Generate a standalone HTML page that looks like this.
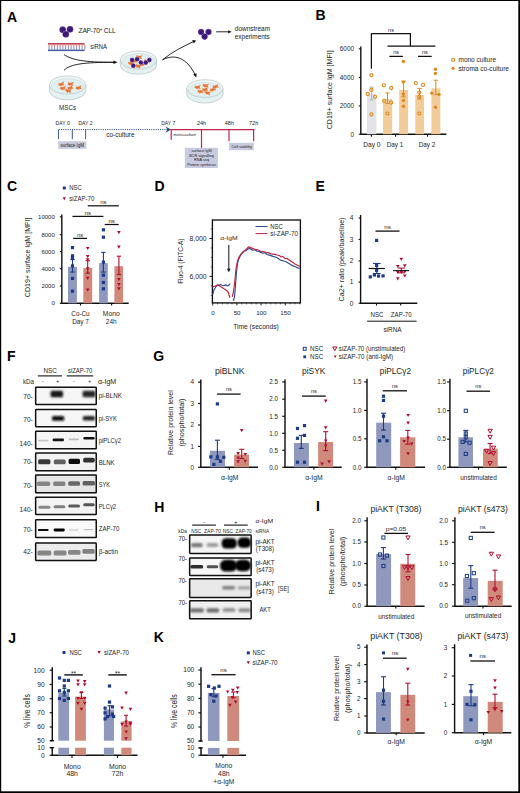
<!DOCTYPE html>
<html><head><meta charset="utf-8"><title>Figure</title><style>html,body{margin:0;padding:0;background:#fff;width:520px;height:793px;overflow:hidden}svg{display:block;font-family:"Liberation Sans",sans-serif}</style></head><body>
<svg width="520" height="793" viewBox="0 0 520 793" font-family="Liberation Sans, sans-serif" fill="#1e1e1e"><defs><filter id="b3" x="-50%" y="-100%" width="200%" height="300%"><feGaussianBlur stdDeviation="0.3"/></filter><filter id="b4" x="-50%" y="-100%" width="200%" height="300%"><feGaussianBlur stdDeviation="0.4"/></filter><filter id="b5" x="-50%" y="-100%" width="200%" height="300%"><feGaussianBlur stdDeviation="0.5"/></filter><filter id="b6" x="-50%" y="-100%" width="200%" height="300%"><feGaussianBlur stdDeviation="0.6"/></filter><filter id="b7" x="-50%" y="-100%" width="200%" height="300%"><feGaussianBlur stdDeviation="0.7"/></filter><filter id="b8" x="-50%" y="-100%" width="200%" height="300%"><feGaussianBlur stdDeviation="0.8"/></filter><filter id="b9" x="-50%" y="-100%" width="200%" height="300%"><feGaussianBlur stdDeviation="0.9"/></filter><filter id="b10" x="-50%" y="-100%" width="200%" height="300%"><feGaussianBlur stdDeviation="1.0"/></filter><filter id="b11" x="-50%" y="-100%" width="200%" height="300%"><feGaussianBlur stdDeviation="1.1"/></filter><filter id="b12" x="-50%" y="-100%" width="200%" height="300%"><feGaussianBlur stdDeviation="1.2"/></filter><filter id="b13" x="-50%" y="-100%" width="200%" height="300%"><feGaussianBlur stdDeviation="1.3"/></filter><filter id="b14" x="-50%" y="-100%" width="200%" height="300%"><feGaussianBlur stdDeviation="1.4"/></filter><filter id="b15" x="-50%" y="-100%" width="200%" height="300%"><feGaussianBlur stdDeviation="1.5"/></filter></defs>
<text x="7" y="21.9" font-size="14" font-weight="bold" fill="#000">A</text>
<circle cx="62.7" cy="29.7" r="3.35" fill="#9a78c0" stroke="none" stroke-width="1"/>
<circle cx="62.7" cy="29.7" r="3" fill="#3d1a78" stroke="none" stroke-width="1"/>
<circle cx="70" cy="29.3" r="3.35" fill="#9a78c0" stroke="none" stroke-width="1"/>
<circle cx="70" cy="29.3" r="3" fill="#3d1a78" stroke="none" stroke-width="1"/>
<circle cx="65.8" cy="34.2" r="3.35" fill="#9a78c0" stroke="none" stroke-width="1"/>
<circle cx="65.8" cy="34.2" r="3" fill="#3d1a78" stroke="none" stroke-width="1"/>
<text x="78.6" y="33.3" font-size="6.6" fill="#222" letter-spacing="-0.2">ZAP-70<tspan font-size="4.6" dy="-2.2">+</tspan><tspan dy="2.2"> CLL</tspan></text>
<rect x="48" y="43.1" width="36.6" height="1.5" fill="#c23540"/>
<rect x="48" y="49.6" width="36.6" height="1.5" fill="#4358a6"/>
<rect x="48.6" y="44.6" width="1" height="2.5" fill="#d87078"/>
<rect x="48.6" y="47.1" width="1" height="2.5" fill="#7a88c8"/>
<rect x="51.35" y="44.6" width="1" height="2.5" fill="#d87078"/>
<rect x="51.35" y="47.1" width="1" height="2.5" fill="#7a88c8"/>
<rect x="54.1" y="44.6" width="1" height="2.5" fill="#d87078"/>
<rect x="54.1" y="47.1" width="1" height="2.5" fill="#7a88c8"/>
<rect x="56.85" y="44.6" width="1" height="2.5" fill="#d87078"/>
<rect x="56.85" y="47.1" width="1" height="2.5" fill="#7a88c8"/>
<rect x="59.6" y="44.6" width="1" height="2.5" fill="#d87078"/>
<rect x="59.6" y="47.1" width="1" height="2.5" fill="#7a88c8"/>
<rect x="62.35" y="44.6" width="1" height="2.5" fill="#d87078"/>
<rect x="62.35" y="47.1" width="1" height="2.5" fill="#7a88c8"/>
<rect x="65.1" y="44.6" width="1" height="2.5" fill="#d87078"/>
<rect x="65.1" y="47.1" width="1" height="2.5" fill="#7a88c8"/>
<rect x="67.85" y="44.6" width="1" height="2.5" fill="#d87078"/>
<rect x="67.85" y="47.1" width="1" height="2.5" fill="#7a88c8"/>
<rect x="70.6" y="44.6" width="1" height="2.5" fill="#d87078"/>
<rect x="70.6" y="47.1" width="1" height="2.5" fill="#7a88c8"/>
<rect x="73.35" y="44.6" width="1" height="2.5" fill="#d87078"/>
<rect x="73.35" y="47.1" width="1" height="2.5" fill="#7a88c8"/>
<rect x="76.1" y="44.6" width="1" height="2.5" fill="#d87078"/>
<rect x="76.1" y="47.1" width="1" height="2.5" fill="#7a88c8"/>
<rect x="78.85" y="44.6" width="1" height="2.5" fill="#d87078"/>
<rect x="78.85" y="47.1" width="1" height="2.5" fill="#7a88c8"/>
<rect x="81.6" y="44.6" width="1" height="2.5" fill="#d87078"/>
<rect x="81.6" y="47.1" width="1" height="2.5" fill="#7a88c8"/>
<rect x="84.35" y="44.6" width="1" height="2.5" fill="#d87078"/>
<rect x="84.35" y="47.1" width="1" height="2.5" fill="#7a88c8"/>
<text x="90.3" y="49" font-size="6.6" fill="#222" textLength="16.6" lengthAdjust="spacingAndGlyphs">siRNA</text>
<path d="M64,54.6 C72,60 84,62.3 114,62.3" fill="none" stroke="#111" stroke-width="0.9"/>
<path d="M64,70.4 C70,64 84,62.3 114,62.3" fill="none" stroke="#111" stroke-width="0.9"/>
<path d="M113.5,60.6 L117.5,62.3 L113.5,64 Z" fill="#111" stroke="none" stroke-width="0"/>
<path d="M49.3,85 L49.3,90.7 A18.3,9.2 0 0 0 85.89999999999999,90.7 L85.89999999999999,85 Z" fill="#e4f1f2" stroke="#a4b0b0" stroke-width="0.5"/>
<ellipse cx="67.6" cy="85" rx="18.3" ry="9.2" fill="#eef7f7" stroke="#a4b0b0" stroke-width="0.5"/>
<ellipse cx="67.6" cy="86.2" rx="16.7" ry="7.6" fill="#e0eff1" stroke="#bccaca" stroke-width="0.35"/>
<g transform="translate(61.2,84.2) rotate(-8) scale(0.95)"><path d="M-3.4,0.6 L-2.2,-0.4 L-2.8,-1.6 L-1,-0.9 L0.8,-1.3 L3.3,-2.3 L2.0,-0.2 L3.2,1.5 L0.6,1.1 L-0.6,2.2 L-1.2,1.2 Z" fill="#f5c4a0" stroke="#f5c4a0" stroke-width="0.6" stroke-linejoin="round"/><path d="M-3.4,0.6 L-2.2,-0.4 L-2.8,-1.6 L-1,-0.9 L0.8,-1.3 L3.3,-2.3 L2.0,-0.2 L3.2,1.5 L0.6,1.1 L-0.6,2.2 L-1.2,1.2 Z" fill="#e0743a"/></g>
<g transform="translate(70.5,84) rotate(6) scale(0.95)"><path d="M-3.4,0.6 L-2.2,-0.4 L-2.8,-1.6 L-1,-0.9 L0.8,-1.3 L3.3,-2.3 L2.0,-0.2 L3.2,1.5 L0.6,1.1 L-0.6,2.2 L-1.2,1.2 Z" fill="#f5c4a0" stroke="#f5c4a0" stroke-width="0.6" stroke-linejoin="round"/><path d="M-3.4,0.6 L-2.2,-0.4 L-2.8,-1.6 L-1,-0.9 L0.8,-1.3 L3.3,-2.3 L2.0,-0.2 L3.2,1.5 L0.6,1.1 L-0.6,2.2 L-1.2,1.2 Z" fill="#e0743a"/></g>
<g transform="translate(62.8,88.2) rotate(0) scale(0.95)"><path d="M-3.4,0.6 L-2.2,-0.4 L-2.8,-1.6 L-1,-0.9 L0.8,-1.3 L3.3,-2.3 L2.0,-0.2 L3.2,1.5 L0.6,1.1 L-0.6,2.2 L-1.2,1.2 Z" fill="#f5c4a0" stroke="#f5c4a0" stroke-width="0.6" stroke-linejoin="round"/><path d="M-3.4,0.6 L-2.2,-0.4 L-2.8,-1.6 L-1,-0.9 L0.8,-1.3 L3.3,-2.3 L2.0,-0.2 L3.2,1.5 L0.6,1.1 L-0.6,2.2 L-1.2,1.2 Z" fill="#e0743a"/></g>
<g transform="translate(70.2,87.8) rotate(-15) scale(0.95)"><path d="M-3.4,0.6 L-2.2,-0.4 L-2.8,-1.6 L-1,-0.9 L0.8,-1.3 L3.3,-2.3 L2.0,-0.2 L3.2,1.5 L0.6,1.1 L-0.6,2.2 L-1.2,1.2 Z" fill="#f5c4a0" stroke="#f5c4a0" stroke-width="0.6" stroke-linejoin="round"/><path d="M-3.4,0.6 L-2.2,-0.4 L-2.8,-1.6 L-1,-0.9 L0.8,-1.3 L3.3,-2.3 L2.0,-0.2 L3.2,1.5 L0.6,1.1 L-0.6,2.2 L-1.2,1.2 Z" fill="#e0743a"/></g>
<g transform="translate(78.5,87.8) rotate(-5) scale(0.95)"><path d="M-3.4,0.6 L-2.2,-0.4 L-2.8,-1.6 L-1,-0.9 L0.8,-1.3 L3.3,-2.3 L2.0,-0.2 L3.2,1.5 L0.6,1.1 L-0.6,2.2 L-1.2,1.2 Z" fill="#f5c4a0" stroke="#f5c4a0" stroke-width="0.6" stroke-linejoin="round"/><path d="M-3.4,0.6 L-2.2,-0.4 L-2.8,-1.6 L-1,-0.9 L0.8,-1.3 L3.3,-2.3 L2.0,-0.2 L3.2,1.5 L0.6,1.1 L-0.6,2.2 L-1.2,1.2 Z" fill="#e0743a"/></g>
<g transform="translate(68.3,90.9) rotate(12) scale(0.95)"><path d="M-3.4,0.6 L-2.2,-0.4 L-2.8,-1.6 L-1,-0.9 L0.8,-1.3 L3.3,-2.3 L2.0,-0.2 L3.2,1.5 L0.6,1.1 L-0.6,2.2 L-1.2,1.2 Z" fill="#f5c4a0" stroke="#f5c4a0" stroke-width="0.6" stroke-linejoin="round"/><path d="M-3.4,0.6 L-2.2,-0.4 L-2.8,-1.6 L-1,-0.9 L0.8,-1.3 L3.3,-2.3 L2.0,-0.2 L3.2,1.5 L0.6,1.1 L-0.6,2.2 L-1.2,1.2 Z" fill="#e0743a"/></g>
<text x="59.1" y="110.4" font-size="7" fill="#222" textLength="17" lengthAdjust="spacingAndGlyphs">MSCs</text>
<path d="M120.3,60 L120.3,65.1 A18.2,9.2 0 0 0 156.7,65.1 L156.7,60 Z" fill="#e4f1f2" stroke="#a4b0b0" stroke-width="0.5"/>
<ellipse cx="138.5" cy="60" rx="18.2" ry="9.2" fill="#eef7f7" stroke="#a4b0b0" stroke-width="0.5"/>
<ellipse cx="138.5" cy="61.2" rx="16.6" ry="7.6" fill="#e0eff1" stroke="#bccaca" stroke-width="0.35"/>
<g transform="translate(134,61) rotate(0) scale(0.95)"><path d="M-3.4,0.6 L-2.2,-0.4 L-2.8,-1.6 L-1,-0.9 L0.8,-1.3 L3.3,-2.3 L2.0,-0.2 L3.2,1.5 L0.6,1.1 L-0.6,2.2 L-1.2,1.2 Z" fill="#f5c4a0" stroke="#f5c4a0" stroke-width="0.6" stroke-linejoin="round"/><path d="M-3.4,0.6 L-2.2,-0.4 L-2.8,-1.6 L-1,-0.9 L0.8,-1.3 L3.3,-2.3 L2.0,-0.2 L3.2,1.5 L0.6,1.1 L-0.6,2.2 L-1.2,1.2 Z" fill="#e0743a"/></g>
<g transform="translate(139,57) rotate(10) scale(0.95)"><path d="M-3.4,0.6 L-2.2,-0.4 L-2.8,-1.6 L-1,-0.9 L0.8,-1.3 L3.3,-2.3 L2.0,-0.2 L3.2,1.5 L0.6,1.1 L-0.6,2.2 L-1.2,1.2 Z" fill="#f5c4a0" stroke="#f5c4a0" stroke-width="0.6" stroke-linejoin="round"/><path d="M-3.4,0.6 L-2.2,-0.4 L-2.8,-1.6 L-1,-0.9 L0.8,-1.3 L3.3,-2.3 L2.0,-0.2 L3.2,1.5 L0.6,1.1 L-0.6,2.2 L-1.2,1.2 Z" fill="#e0743a"/></g>
<g transform="translate(143,64) rotate(-15) scale(0.95)"><path d="M-3.4,0.6 L-2.2,-0.4 L-2.8,-1.6 L-1,-0.9 L0.8,-1.3 L3.3,-2.3 L2.0,-0.2 L3.2,1.5 L0.6,1.1 L-0.6,2.2 L-1.2,1.2 Z" fill="#f5c4a0" stroke="#f5c4a0" stroke-width="0.6" stroke-linejoin="round"/><path d="M-3.4,0.6 L-2.2,-0.4 L-2.8,-1.6 L-1,-0.9 L0.8,-1.3 L3.3,-2.3 L2.0,-0.2 L3.2,1.5 L0.6,1.1 L-0.6,2.2 L-1.2,1.2 Z" fill="#e0743a"/></g>
<g transform="translate(147,61) rotate(5) scale(0.95)"><path d="M-3.4,0.6 L-2.2,-0.4 L-2.8,-1.6 L-1,-0.9 L0.8,-1.3 L3.3,-2.3 L2.0,-0.2 L3.2,1.5 L0.6,1.1 L-0.6,2.2 L-1.2,1.2 Z" fill="#f5c4a0" stroke="#f5c4a0" stroke-width="0.6" stroke-linejoin="round"/><path d="M-3.4,0.6 L-2.2,-0.4 L-2.8,-1.6 L-1,-0.9 L0.8,-1.3 L3.3,-2.3 L2.0,-0.2 L3.2,1.5 L0.6,1.1 L-0.6,2.2 L-1.2,1.2 Z" fill="#e0743a"/></g>
<g transform="translate(138,66) rotate(20) scale(0.95)"><path d="M-3.4,0.6 L-2.2,-0.4 L-2.8,-1.6 L-1,-0.9 L0.8,-1.3 L3.3,-2.3 L2.0,-0.2 L3.2,1.5 L0.6,1.1 L-0.6,2.2 L-1.2,1.2 Z" fill="#f5c4a0" stroke="#f5c4a0" stroke-width="0.6" stroke-linejoin="round"/><path d="M-3.4,0.6 L-2.2,-0.4 L-2.8,-1.6 L-1,-0.9 L0.8,-1.3 L3.3,-2.3 L2.0,-0.2 L3.2,1.5 L0.6,1.1 L-0.6,2.2 L-1.2,1.2 Z" fill="#e0743a"/></g>
<g transform="translate(131,63) rotate(-10) scale(0.95)"><path d="M-3.4,0.6 L-2.2,-0.4 L-2.8,-1.6 L-1,-0.9 L0.8,-1.3 L3.3,-2.3 L2.0,-0.2 L3.2,1.5 L0.6,1.1 L-0.6,2.2 L-1.2,1.2 Z" fill="#f5c4a0" stroke="#f5c4a0" stroke-width="0.6" stroke-linejoin="round"/><path d="M-3.4,0.6 L-2.2,-0.4 L-2.8,-1.6 L-1,-0.9 L0.8,-1.3 L3.3,-2.3 L2.0,-0.2 L3.2,1.5 L0.6,1.1 L-0.6,2.2 L-1.2,1.2 Z" fill="#e0743a"/></g>
<circle cx="132.1" cy="59.9" r="2.35" fill="#9a78c0" stroke="none" stroke-width="1"/>
<circle cx="132.1" cy="59.9" r="2" fill="#3d1a78" stroke="none" stroke-width="1"/>
<circle cx="137.1" cy="59.2" r="2.35" fill="#9a78c0" stroke="none" stroke-width="1"/>
<circle cx="137.1" cy="59.2" r="2" fill="#3d1a78" stroke="none" stroke-width="1"/>
<circle cx="140.8" cy="62.6" r="2.35" fill="#9a78c0" stroke="none" stroke-width="1"/>
<circle cx="140.8" cy="62.6" r="2" fill="#3d1a78" stroke="none" stroke-width="1"/>
<circle cx="145.8" cy="62.6" r="2.35" fill="#9a78c0" stroke="none" stroke-width="1"/>
<circle cx="145.8" cy="62.6" r="2" fill="#3d1a78" stroke="none" stroke-width="1"/>
<circle cx="149.4" cy="59.9" r="2.35" fill="#9a78c0" stroke="none" stroke-width="1"/>
<circle cx="149.4" cy="59.9" r="2" fill="#3d1a78" stroke="none" stroke-width="1"/>
<circle cx="133.3" cy="65.7" r="2.35" fill="#9a78c0" stroke="none" stroke-width="1"/>
<circle cx="133.3" cy="65.7" r="2" fill="#3d1a78" stroke="none" stroke-width="1"/>
<path d="M162.5,59.8 C172,52 182,47 193.5,41.6" fill="none" stroke="#111" stroke-width="0.9"/>
<path d="M192.2,40.0 L196.2,40.4 L193.8,43.6 Z" fill="#111" stroke="none" stroke-width="0"/>
<path d="M162.5,59.8 C178,52 189,62 195,74.6" fill="none" stroke="#111" stroke-width="0.9"/>
<path d="M193.2,74.4 L196.3,77.4 L196.6,73.3 Z" fill="#111" stroke="none" stroke-width="0"/>
<circle cx="201.1" cy="32" r="3.15" fill="#9a78c0" stroke="none" stroke-width="1"/>
<circle cx="201.1" cy="32" r="2.8" fill="#3d1a78" stroke="none" stroke-width="1"/>
<circle cx="208.5" cy="32" r="3.15" fill="#9a78c0" stroke="none" stroke-width="1"/>
<circle cx="208.5" cy="32" r="2.8" fill="#3d1a78" stroke="none" stroke-width="1"/>
<circle cx="204.6" cy="36.6" r="3.15" fill="#9a78c0" stroke="none" stroke-width="1"/>
<circle cx="204.6" cy="36.6" r="2.8" fill="#3d1a78" stroke="none" stroke-width="1"/>
<line x1="216.2" y1="31.8" x2="228.6" y2="31.8" stroke="#111" stroke-width="0.9"/>
<path d="M228.2,30.2 L231.6,31.8 L228.2,33.4 Z" fill="#111" stroke="none" stroke-width="0"/>
<text x="234.8" y="31.3" font-size="6.6" fill="#222" textLength="35.3" lengthAdjust="spacingAndGlyphs">downstream</text>
<text x="234.8" y="38.8" font-size="6.6" fill="#222" textLength="35" lengthAdjust="spacingAndGlyphs">experiments</text>
<path d="M186.70000000000002,88.6 L186.70000000000002,94.1 A18.2,9.0 0 0 0 223.1,94.1 L223.1,88.6 Z" fill="#e4f1f2" stroke="#a4b0b0" stroke-width="0.5"/>
<ellipse cx="204.9" cy="88.6" rx="18.2" ry="9" fill="#eef7f7" stroke="#a4b0b0" stroke-width="0.5"/>
<ellipse cx="204.9" cy="89.8" rx="16.6" ry="7.4" fill="#e0eff1" stroke="#bccaca" stroke-width="0.35"/>
<g transform="translate(197.5,87.2) rotate(0) scale(0.95)"><path d="M-3.4,0.6 L-2.2,-0.4 L-2.8,-1.6 L-1,-0.9 L0.8,-1.3 L3.3,-2.3 L2.0,-0.2 L3.2,1.5 L0.6,1.1 L-0.6,2.2 L-1.2,1.2 Z" fill="#f5c4a0" stroke="#f5c4a0" stroke-width="0.6" stroke-linejoin="round"/><path d="M-3.4,0.6 L-2.2,-0.4 L-2.8,-1.6 L-1,-0.9 L0.8,-1.3 L3.3,-2.3 L2.0,-0.2 L3.2,1.5 L0.6,1.1 L-0.6,2.2 L-1.2,1.2 Z" fill="#e0743a"/></g>
<g transform="translate(205.5,85.6) rotate(10) scale(0.95)"><path d="M-3.4,0.6 L-2.2,-0.4 L-2.8,-1.6 L-1,-0.9 L0.8,-1.3 L3.3,-2.3 L2.0,-0.2 L3.2,1.5 L0.6,1.1 L-0.6,2.2 L-1.2,1.2 Z" fill="#f5c4a0" stroke="#f5c4a0" stroke-width="0.6" stroke-linejoin="round"/><path d="M-3.4,0.6 L-2.2,-0.4 L-2.8,-1.6 L-1,-0.9 L0.8,-1.3 L3.3,-2.3 L2.0,-0.2 L3.2,1.5 L0.6,1.1 L-0.6,2.2 L-1.2,1.2 Z" fill="#e0743a"/></g>
<g transform="translate(212.8,89.5) rotate(-15) scale(0.95)"><path d="M-3.4,0.6 L-2.2,-0.4 L-2.8,-1.6 L-1,-0.9 L0.8,-1.3 L3.3,-2.3 L2.0,-0.2 L3.2,1.5 L0.6,1.1 L-0.6,2.2 L-1.2,1.2 Z" fill="#f5c4a0" stroke="#f5c4a0" stroke-width="0.6" stroke-linejoin="round"/><path d="M-3.4,0.6 L-2.2,-0.4 L-2.8,-1.6 L-1,-0.9 L0.8,-1.3 L3.3,-2.3 L2.0,-0.2 L3.2,1.5 L0.6,1.1 L-0.6,2.2 L-1.2,1.2 Z" fill="#e0743a"/></g>
<g transform="translate(200.5,91.5) rotate(5) scale(0.95)"><path d="M-3.4,0.6 L-2.2,-0.4 L-2.8,-1.6 L-1,-0.9 L0.8,-1.3 L3.3,-2.3 L2.0,-0.2 L3.2,1.5 L0.6,1.1 L-0.6,2.2 L-1.2,1.2 Z" fill="#f5c4a0" stroke="#f5c4a0" stroke-width="0.6" stroke-linejoin="round"/><path d="M-3.4,0.6 L-2.2,-0.4 L-2.8,-1.6 L-1,-0.9 L0.8,-1.3 L3.3,-2.3 L2.0,-0.2 L3.2,1.5 L0.6,1.1 L-0.6,2.2 L-1.2,1.2 Z" fill="#e0743a"/></g>
<g transform="translate(207.5,92.8) rotate(20) scale(0.95)"><path d="M-3.4,0.6 L-2.2,-0.4 L-2.8,-1.6 L-1,-0.9 L0.8,-1.3 L3.3,-2.3 L2.0,-0.2 L3.2,1.5 L0.6,1.1 L-0.6,2.2 L-1.2,1.2 Z" fill="#f5c4a0" stroke="#f5c4a0" stroke-width="0.6" stroke-linejoin="round"/><path d="M-3.4,0.6 L-2.2,-0.4 L-2.8,-1.6 L-1,-0.9 L0.8,-1.3 L3.3,-2.3 L2.0,-0.2 L3.2,1.5 L0.6,1.1 L-0.6,2.2 L-1.2,1.2 Z" fill="#e0743a"/></g>
<g transform="translate(215.5,86.6) rotate(-10) scale(0.95)"><path d="M-3.4,0.6 L-2.2,-0.4 L-2.8,-1.6 L-1,-0.9 L0.8,-1.3 L3.3,-2.3 L2.0,-0.2 L3.2,1.5 L0.6,1.1 L-0.6,2.2 L-1.2,1.2 Z" fill="#f5c4a0" stroke="#f5c4a0" stroke-width="0.6" stroke-linejoin="round"/><path d="M-3.4,0.6 L-2.2,-0.4 L-2.8,-1.6 L-1,-0.9 L0.8,-1.3 L3.3,-2.3 L2.0,-0.2 L3.2,1.5 L0.6,1.1 L-0.6,2.2 L-1.2,1.2 Z" fill="#e0743a"/></g>
<g transform="translate(205,89.5) rotate(-5) scale(0.95)"><path d="M-3.4,0.6 L-2.2,-0.4 L-2.8,-1.6 L-1,-0.9 L0.8,-1.3 L3.3,-2.3 L2.0,-0.2 L3.2,1.5 L0.6,1.1 L-0.6,2.2 L-1.2,1.2 Z" fill="#f5c4a0" stroke="#f5c4a0" stroke-width="0.6" stroke-linejoin="round"/><path d="M-3.4,0.6 L-2.2,-0.4 L-2.8,-1.6 L-1,-0.9 L0.8,-1.3 L3.3,-2.3 L2.0,-0.2 L3.2,1.5 L0.6,1.1 L-0.6,2.2 L-1.2,1.2 Z" fill="#e0743a"/></g>
<text x="55.6" y="124.9" font-size="5.1" fill="#222" textLength="14.3" lengthAdjust="spacingAndGlyphs">DAY 0</text>
<text x="78.5" y="124.9" font-size="5.1" fill="#222" textLength="14" lengthAdjust="spacingAndGlyphs">DAY 2</text>
<text x="161.2" y="124.9" font-size="5.1" fill="#222" textLength="14" lengthAdjust="spacingAndGlyphs">DAY 7</text>
<text x="196.9" y="124.9" font-size="5.1" fill="#222" textLength="9.2" lengthAdjust="spacingAndGlyphs">24h</text>
<text x="224.8" y="124.9" font-size="5.1" fill="#222" textLength="9.2" lengthAdjust="spacingAndGlyphs">48h</text>
<text x="249" y="124.9" font-size="5.1" fill="#222" textLength="9.2" lengthAdjust="spacingAndGlyphs">72h</text>
<line x1="58.8" y1="129.6" x2="167.5" y2="129.6" stroke="#2a4a8a" stroke-width="1" stroke-dasharray="1.1,1.1"/>
<path d="M165.6,126.4 L171.0,129.6 L165.6,132.8 L167.2,129.6 Z" fill="#2a4a8a" stroke="none" stroke-width="0"/>
<line x1="58.5" y1="129.6" x2="58.5" y2="139.2" stroke="#2a4a8a" stroke-width="0.9"/>
<line x1="72.3" y1="129.6" x2="72.3" y2="139.2" stroke="#2a4a8a" stroke-width="0.9"/>
<line x1="85.6" y1="129.6" x2="85.6" y2="139.2" stroke="#2a4a8a" stroke-width="0.9"/>
<rect x="58.2" y="141.2" width="28.1" height="7.6" fill="#c8cbe0"/>
<text x="72.3" y="146.6" font-size="4.5" text-anchor="middle" fill="#1a1a1a" textLength="23.5" lengthAdjust="spacingAndGlyphs">surface IgM</text>
<text x="106.3" y="136.6" font-size="7" fill="#222" textLength="28.3" lengthAdjust="spacingAndGlyphs">co-culture</text>
<line x1="170.6" y1="129.6" x2="254.2" y2="129.6" stroke="#c4244c" stroke-width="1.2"/>
<line x1="171.2" y1="129" x2="171.2" y2="139.8" stroke="#c4244c" stroke-width="1.2"/>
<line x1="201.5" y1="129.6" x2="201.5" y2="148" stroke="#c4244c" stroke-width="1.2"/>
<line x1="229" y1="129.6" x2="229" y2="141.3" stroke="#c4244c" stroke-width="1.2"/>
<line x1="253.6" y1="129" x2="253.6" y2="141.3" stroke="#c4244c" stroke-width="1.2"/>
<text x="173.6" y="135.6" font-size="4.2" fill="#1a1a1a" textLength="22.7" lengthAdjust="spacingAndGlyphs" font-style="italic">mono-culture</text>
<rect x="229" y="142.8" width="24.8" height="7.4" fill="#c8cbe0"/>
<text x="241.7" y="148.1" font-size="4.4" text-anchor="middle" fill="#1a1a1a" textLength="20.3" lengthAdjust="spacingAndGlyphs">Cell viability</text>
<rect x="184.8" y="147.8" width="33.1" height="20.2" fill="#c8cbe0"/>
<text x="201.6" y="152.3" font-size="4.4" text-anchor="middle" fill="#1a1a1a" textLength="20.1" lengthAdjust="spacingAndGlyphs">surface IgM</text>
<text x="201.6" y="156.73" font-size="4.4" text-anchor="middle" fill="#1a1a1a" textLength="24.6" lengthAdjust="spacingAndGlyphs">BCR signalling</text>
<text x="201.6" y="161.16" font-size="4.4" text-anchor="middle" fill="#1a1a1a" textLength="15" lengthAdjust="spacingAndGlyphs">RNA seq</text>
<text x="201.6" y="165.59" font-size="4.4" text-anchor="middle" fill="#1a1a1a" textLength="28.9" lengthAdjust="spacingAndGlyphs">Protein synthesis</text>
<text x="315.6" y="20.3" font-size="14" font-weight="bold" fill="#000">B</text>
<line x1="360.8" y1="46.6" x2="360.8" y2="134.2" stroke="#111" stroke-width="1.4"/>
<line x1="358.8" y1="48.8" x2="360.8" y2="48.8" stroke="#111" stroke-width="1.12"/>
<text x="354" y="51.1" font-size="6.4" text-anchor="end">6000</text>
<line x1="358.8" y1="77.4" x2="360.8" y2="77.4" stroke="#111" stroke-width="1.12"/>
<text x="354" y="79.7" font-size="6.4" text-anchor="end">4000</text>
<line x1="358.8" y1="105.9" x2="360.8" y2="105.9" stroke="#111" stroke-width="1.12"/>
<text x="354" y="108.2" font-size="6.4" text-anchor="end">2000</text>
<line x1="358.8" y1="134.2" x2="360.8" y2="134.2" stroke="#111" stroke-width="1.12"/>
<text x="354" y="136.5" font-size="6.4" text-anchor="end">0</text>
<line x1="360.2" y1="134.2" x2="446.3" y2="134.2" stroke="#111" stroke-width="1.4"/>
<line x1="371.4" y1="134.2" x2="371.4" y2="136.7" stroke="#111" stroke-width="1.12"/>
<line x1="395.6" y1="134.2" x2="395.6" y2="136.7" stroke="#111" stroke-width="1.12"/>
<line x1="427.5" y1="134.2" x2="427.5" y2="136.7" stroke="#111" stroke-width="1.12"/>
<text x="329.9" y="89.8" font-size="8" text-anchor="middle" transform="rotate(-90 329.9 89.8)" textLength="79" lengthAdjust="spacingAndGlyphs" dominant-baseline="central">CD19+ surface IgM [MFI]</text>
<rect x="366.9" y="93.9" width="9.5" height="40.3" fill="#e3e3e8"/>
<rect x="383" y="99" width="9.1" height="35.2" fill="#f1cc98"/>
<rect x="399.2" y="89.9" width="8.8" height="44.3" fill="#f1cc98"/>
<rect x="415.3" y="95" width="8.7" height="39.2" fill="#f1cc98"/>
<rect x="431.4" y="88.4" width="8.9" height="45.8" fill="#f1cc98"/>
<line x1="371.6" y1="87.1" x2="371.6" y2="99.9" stroke="#b4b4b8" stroke-width="1"/>
<line x1="369.4" y1="87.1" x2="373.8" y2="87.1" stroke="#b4b4b8" stroke-width="1"/>
<line x1="369.4" y1="99.9" x2="373.8" y2="99.9" stroke="#b4b4b8" stroke-width="1"/>
<line x1="387.5" y1="93" x2="387.5" y2="103.6" stroke="#dc8a22" stroke-width="1"/>
<line x1="385.3" y1="93" x2="389.7" y2="93" stroke="#dc8a22" stroke-width="1"/>
<line x1="385.3" y1="103.6" x2="389.7" y2="103.6" stroke="#dc8a22" stroke-width="1"/>
<line x1="403.6" y1="81.3" x2="403.6" y2="96.8" stroke="#dc8a22" stroke-width="1"/>
<line x1="401.4" y1="81.3" x2="405.8" y2="81.3" stroke="#dc8a22" stroke-width="1"/>
<line x1="401.4" y1="96.8" x2="405.8" y2="96.8" stroke="#dc8a22" stroke-width="1"/>
<line x1="419.6" y1="88.4" x2="419.6" y2="99" stroke="#dc8a22" stroke-width="1"/>
<line x1="417.4" y1="88.4" x2="421.8" y2="88.4" stroke="#dc8a22" stroke-width="1"/>
<line x1="417.4" y1="99" x2="421.8" y2="99" stroke="#dc8a22" stroke-width="1"/>
<line x1="435.8" y1="80.2" x2="435.8" y2="94.4" stroke="#dc8a22" stroke-width="1"/>
<line x1="433.6" y1="80.2" x2="438" y2="80.2" stroke="#dc8a22" stroke-width="1"/>
<line x1="433.6" y1="94.4" x2="438" y2="94.4" stroke="#dc8a22" stroke-width="1"/>
<circle cx="371.4" cy="75.2" r="1.6" fill="none" stroke="#dc8a22" stroke-width="1.1"/>
<circle cx="371.4" cy="89.9" r="1.6" fill="none" stroke="#dc8a22" stroke-width="1.1"/>
<circle cx="367.8" cy="94" r="1.6" fill="none" stroke="#dc8a22" stroke-width="1.1"/>
<circle cx="375.1" cy="96.8" r="1.6" fill="none" stroke="#dc8a22" stroke-width="1.1"/>
<circle cx="371.4" cy="114.5" r="1.6" fill="none" stroke="#dc8a22" stroke-width="1.1"/>
<circle cx="383.9" cy="85.3" r="1.6" fill="none" stroke="#dc8a22" stroke-width="1.1"/>
<circle cx="391.2" cy="88" r="1.6" fill="none" stroke="#dc8a22" stroke-width="1.1"/>
<circle cx="384.2" cy="100.8" r="1.6" fill="none" stroke="#dc8a22" stroke-width="1.1"/>
<circle cx="391.2" cy="102.6" r="1.6" fill="none" stroke="#dc8a22" stroke-width="1.1"/>
<circle cx="387.5" cy="113.6" r="1.6" fill="none" stroke="#dc8a22" stroke-width="1.1"/>
<circle cx="415.8" cy="83.1" r="1.6" fill="none" stroke="#dc8a22" stroke-width="1.1"/>
<circle cx="423" cy="84.9" r="1.6" fill="none" stroke="#dc8a22" stroke-width="1.1"/>
<circle cx="419.3" cy="92.6" r="1.6" fill="none" stroke="#dc8a22" stroke-width="1.1"/>
<circle cx="419.3" cy="96.8" r="1.6" fill="none" stroke="#dc8a22" stroke-width="1.1"/>
<circle cx="419.3" cy="113.6" r="1.6" fill="none" stroke="#dc8a22" stroke-width="1.1"/>
<circle cx="403.4" cy="61.5" r="1.7" fill="#dc8a22" stroke="none" stroke-width="1"/>
<circle cx="403.4" cy="82" r="1.7" fill="#dc8a22" stroke="none" stroke-width="1"/>
<circle cx="403.4" cy="94" r="1.7" fill="#dc8a22" stroke="none" stroke-width="1"/>
<circle cx="403.4" cy="100.4" r="1.7" fill="#dc8a22" stroke="none" stroke-width="1"/>
<circle cx="403.4" cy="106.3" r="1.7" fill="#dc8a22" stroke="none" stroke-width="1"/>
<circle cx="435.4" cy="69.2" r="1.7" fill="#dc8a22" stroke="none" stroke-width="1"/>
<circle cx="435.4" cy="73.4" r="1.7" fill="#dc8a22" stroke="none" stroke-width="1"/>
<circle cx="431.7" cy="93.1" r="1.7" fill="#dc8a22" stroke="none" stroke-width="1"/>
<circle cx="439" cy="94.4" r="1.7" fill="#dc8a22" stroke="none" stroke-width="1"/>
<circle cx="435.4" cy="107.2" r="1.7" fill="#dc8a22" stroke="none" stroke-width="1"/>
<line x1="371.4" y1="33.6" x2="410.4" y2="33.6" stroke="#111" stroke-width="1.25"/>
<line x1="371.4" y1="33.2" x2="371.4" y2="68.8" stroke="#111" stroke-width="1.25"/>
<line x1="410.4" y1="33.2" x2="410.4" y2="46" stroke="#111" stroke-width="1.25"/>
<line x1="387.5" y1="46" x2="435.4" y2="46" stroke="#111" stroke-width="1.25"/>
<text x="391" y="31.9" font-size="5.5" text-anchor="middle">ns</text>
<line x1="389.3" y1="56.4" x2="402.9" y2="56.4" stroke="#111" stroke-width="1.25"/>
<text x="396.1" y="54.4" font-size="5.5" text-anchor="middle">ns</text>
<line x1="418" y1="56.4" x2="431.7" y2="56.4" stroke="#111" stroke-width="1.25"/>
<text x="424.85" y="54.4" font-size="5.5" text-anchor="middle">ns</text>
<text x="371.9" y="147.4" font-size="6.6" text-anchor="middle" textLength="17.2" lengthAdjust="spacingAndGlyphs">Day 0</text>
<text x="395" y="147.4" font-size="6.6" text-anchor="middle" textLength="16.6" lengthAdjust="spacingAndGlyphs">Day 1</text>
<text x="427" y="147.4" font-size="6.6" text-anchor="middle" textLength="16.6" lengthAdjust="spacingAndGlyphs">Day 2</text>
<circle cx="453.1" cy="59.8" r="1.55" fill="none" stroke="#dc8a22" stroke-width="1.1"/>
<text x="458.5" y="62.1" font-size="6.8" textLength="37.5" lengthAdjust="spacingAndGlyphs">mono culture</text>
<circle cx="453.1" cy="68.3" r="1.6" fill="#dc8a22" stroke="none" stroke-width="1"/>
<text x="458.5" y="70.6" font-size="6.8" textLength="50.5" lengthAdjust="spacingAndGlyphs">stroma co-culture</text>
<text x="7" y="190.9" font-size="14" font-weight="bold" fill="#000">C</text>
<rect x="62.8" y="186.5" width="3" height="3" fill="#1c3a86"/>
<text x="69.3" y="190.4" font-size="6.8" textLength="12.5" lengthAdjust="spacingAndGlyphs">NSC</text>
<path d="M62.7,197.26 L65.9,197.26 L64.3,200.14 Z" fill="#b00c32" stroke="none" stroke-width="0"/>
<text x="69.3" y="200.8" font-size="6.8" textLength="25" lengthAdjust="spacingAndGlyphs">siZAP-70</text>
<line x1="61.8" y1="214.5" x2="61.8" y2="303.3" stroke="#111" stroke-width="1.4"/>
<line x1="59.8" y1="216.8" x2="61.8" y2="216.8" stroke="#111" stroke-width="1.12"/>
<text x="54.8" y="218.96" font-size="6" text-anchor="end">10000</text>
<line x1="59.8" y1="234.7" x2="61.8" y2="234.7" stroke="#111" stroke-width="1.12"/>
<text x="54.8" y="236.86" font-size="6" text-anchor="end">8000</text>
<line x1="59.8" y1="251.6" x2="61.8" y2="251.6" stroke="#111" stroke-width="1.12"/>
<text x="54.8" y="253.76" font-size="6" text-anchor="end">6000</text>
<line x1="59.8" y1="268.7" x2="61.8" y2="268.7" stroke="#111" stroke-width="1.12"/>
<text x="54.8" y="270.86" font-size="6" text-anchor="end">4000</text>
<line x1="59.8" y1="286" x2="61.8" y2="286" stroke="#111" stroke-width="1.12"/>
<text x="54.8" y="288.16" font-size="6" text-anchor="end">2000</text>
<line x1="59.8" y1="303.3" x2="61.8" y2="303.3" stroke="#111" stroke-width="1.12"/>
<text x="54.8" y="305.46" font-size="6" text-anchor="end">0</text>
<line x1="61.2" y1="303.3" x2="128.7" y2="303.3" stroke="#111" stroke-width="1.4"/>
<line x1="80.5" y1="303.3" x2="80.5" y2="305.6" stroke="#111" stroke-width="1.12"/>
<line x1="111.6" y1="303.3" x2="111.6" y2="305.6" stroke="#111" stroke-width="1.12"/>
<text x="28" y="257.4" font-size="8" text-anchor="middle" transform="rotate(-90 28 257.4)" textLength="79.5" lengthAdjust="spacingAndGlyphs" dominant-baseline="central">CD19+ surface IgM [MFI]</text>
<rect x="68" y="266.9" width="8.9" height="36.4" fill="#8f98bd"/>
<rect x="83.3" y="268" width="8.9" height="35.3" fill="#d08a7c"/>
<rect x="99.1" y="263.1" width="8.7" height="40.2" fill="#8f98bd"/>
<rect x="114.4" y="266.2" width="8.7" height="37.1" fill="#d08a7c"/>
<line x1="72.5" y1="259.6" x2="72.5" y2="272.1" stroke="#1c3a86" stroke-width="1.1"/>
<line x1="70.3" y1="259.6" x2="74.7" y2="259.6" stroke="#1c3a86" stroke-width="1.1"/>
<line x1="70.3" y1="272.1" x2="74.7" y2="272.1" stroke="#1c3a86" stroke-width="1.1"/>
<line x1="87.7" y1="260.7" x2="87.7" y2="273.2" stroke="#b00c32" stroke-width="1.1"/>
<line x1="85.5" y1="260.7" x2="89.9" y2="260.7" stroke="#b00c32" stroke-width="1.1"/>
<line x1="85.5" y1="273.2" x2="89.9" y2="273.2" stroke="#b00c32" stroke-width="1.1"/>
<line x1="103.4" y1="252.4" x2="103.4" y2="272.1" stroke="#1c3a86" stroke-width="1.1"/>
<line x1="101.2" y1="252.4" x2="105.6" y2="252.4" stroke="#1c3a86" stroke-width="1.1"/>
<line x1="101.2" y1="272.1" x2="105.6" y2="272.1" stroke="#1c3a86" stroke-width="1.1"/>
<line x1="118.9" y1="256.2" x2="118.9" y2="274.5" stroke="#b00c32" stroke-width="1.1"/>
<line x1="116.7" y1="256.2" x2="121.1" y2="256.2" stroke="#b00c32" stroke-width="1.1"/>
<line x1="116.7" y1="274.5" x2="121.1" y2="274.5" stroke="#b00c32" stroke-width="1.1"/>
<rect x="70.9" y="246" width="3.2" height="3.2" fill="#1c3a86"/>
<rect x="70.9" y="254.2" width="3.2" height="3.2" fill="#1c3a86"/>
<rect x="70.9" y="256" width="3.2" height="3.2" fill="#1c3a86"/>
<rect x="70.9" y="264.3" width="3.2" height="3.2" fill="#1c3a86"/>
<rect x="70.9" y="276.8" width="3.2" height="3.2" fill="#1c3a86"/>
<rect x="70.9" y="289.5" width="3.2" height="3.2" fill="#1c3a86"/>
<path d="M85.9,246.88 L89.5,246.88 L87.7,250.12 Z" fill="#b00c32" stroke="none" stroke-width="0"/>
<path d="M85.9,254.98 L89.5,254.98 L87.7,258.22 Z" fill="#b00c32" stroke="none" stroke-width="0"/>
<path d="M85.9,258.28 L89.5,258.28 L87.7,261.52 Z" fill="#b00c32" stroke="none" stroke-width="0"/>
<path d="M85.9,267.28 L89.5,267.28 L87.7,270.52 Z" fill="#b00c32" stroke="none" stroke-width="0"/>
<path d="M85.9,276.78 L89.5,276.78 L87.7,280.02 Z" fill="#b00c32" stroke="none" stroke-width="0"/>
<path d="M85.9,288.58 L89.5,288.58 L87.7,291.82 Z" fill="#b00c32" stroke="none" stroke-width="0"/>
<rect x="101.8" y="228.2" width="3.2" height="3.2" fill="#1c3a86"/>
<rect x="101.8" y="235.6" width="3.2" height="3.2" fill="#1c3a86"/>
<rect x="101.8" y="260.5" width="3.2" height="3.2" fill="#1c3a86"/>
<rect x="101.8" y="273.6" width="3.2" height="3.2" fill="#1c3a86"/>
<rect x="101.8" y="280.9" width="3.2" height="3.2" fill="#1c3a86"/>
<rect x="101.8" y="287.2" width="3.2" height="3.2" fill="#1c3a86"/>
<path d="M117.1,230.98 L120.7,230.98 L118.9,234.22 Z" fill="#b00c32" stroke="none" stroke-width="0"/>
<path d="M117.1,245.58 L120.7,245.58 L118.9,248.82 Z" fill="#b00c32" stroke="none" stroke-width="0"/>
<path d="M117.1,278.08 L120.7,278.08 L118.9,281.32 Z" fill="#b00c32" stroke="none" stroke-width="0"/>
<path d="M117.1,282.98 L120.7,282.98 L118.9,286.22 Z" fill="#b00c32" stroke="none" stroke-width="0"/>
<path d="M117.1,287.18 L120.7,287.18 L118.9,290.42 Z" fill="#b00c32" stroke="none" stroke-width="0"/>
<line x1="87.7" y1="205.8" x2="118.9" y2="205.8" stroke="#111" stroke-width="1.25"/>
<text x="103.3" y="204.4" font-size="6" text-anchor="middle">ns</text>
<line x1="72.5" y1="216.4" x2="103.4" y2="216.4" stroke="#111" stroke-width="1.25"/>
<text x="87.95" y="215" font-size="6" text-anchor="middle">ns</text>
<line x1="73.2" y1="238.4" x2="87" y2="238.4" stroke="#111" stroke-width="1.25"/>
<text x="80.1" y="237" font-size="6" text-anchor="middle">ns</text>
<line x1="104.7" y1="224.5" x2="118.7" y2="224.5" stroke="#111" stroke-width="1.25"/>
<text x="111.7" y="223.1" font-size="6" text-anchor="middle">ns</text>
<text x="80.5" y="315.8" font-size="6.5" text-anchor="middle" textLength="18.3" lengthAdjust="spacingAndGlyphs">Co-Cu</text>
<text x="80.5" y="323.9" font-size="6.5" text-anchor="middle" textLength="16.7" lengthAdjust="spacingAndGlyphs">Day 7</text>
<text x="111.3" y="315.8" font-size="6.5" text-anchor="middle" textLength="16.9" lengthAdjust="spacingAndGlyphs">Mono</text>
<text x="111.2" y="323.9" font-size="6.5" text-anchor="middle" textLength="10.8" lengthAdjust="spacingAndGlyphs">24h</text>
<text x="154.6" y="190.8" font-size="14" font-weight="bold" fill="#000">D</text>
<rect x="212.4" y="220.0" width="87.99999999999997" height="82.89999999999998" fill="none" stroke="#111" stroke-width="1.35"/>
<line x1="209.5" y1="238.5" x2="212.4" y2="238.5" stroke="#111" stroke-width="0.9"/>
<line x1="209.5" y1="276.4" x2="212.4" y2="276.4" stroke="#111" stroke-width="0.9"/>
<line x1="210.8" y1="229.03" x2="212.4" y2="229.03" stroke="#111" stroke-width="0.6"/>
<line x1="210.8" y1="238.5" x2="212.4" y2="238.5" stroke="#111" stroke-width="0.6"/>
<line x1="210.8" y1="247.97" x2="212.4" y2="247.97" stroke="#111" stroke-width="0.6"/>
<line x1="210.8" y1="257.45" x2="212.4" y2="257.45" stroke="#111" stroke-width="0.6"/>
<line x1="210.8" y1="266.93" x2="212.4" y2="266.93" stroke="#111" stroke-width="0.6"/>
<line x1="210.8" y1="276.4" x2="212.4" y2="276.4" stroke="#111" stroke-width="0.6"/>
<line x1="210.8" y1="285.88" x2="212.4" y2="285.88" stroke="#111" stroke-width="0.6"/>
<line x1="210.8" y1="295.35" x2="212.4" y2="295.35" stroke="#111" stroke-width="0.6"/>
<line x1="212.7" y1="302.9" x2="212.7" y2="305.5" stroke="#111" stroke-width="0.9"/>
<line x1="217.54" y1="302.9" x2="217.54" y2="304.4" stroke="#111" stroke-width="0.6"/>
<line x1="222.38" y1="302.9" x2="222.38" y2="304.4" stroke="#111" stroke-width="0.6"/>
<line x1="227.22" y1="302.9" x2="227.22" y2="304.4" stroke="#111" stroke-width="0.6"/>
<line x1="232.06" y1="302.9" x2="232.06" y2="304.4" stroke="#111" stroke-width="0.6"/>
<line x1="236.9" y1="302.9" x2="236.9" y2="305.5" stroke="#111" stroke-width="0.9"/>
<line x1="241.74" y1="302.9" x2="241.74" y2="304.4" stroke="#111" stroke-width="0.6"/>
<line x1="246.58" y1="302.9" x2="246.58" y2="304.4" stroke="#111" stroke-width="0.6"/>
<line x1="251.42" y1="302.9" x2="251.42" y2="304.4" stroke="#111" stroke-width="0.6"/>
<line x1="256.26" y1="302.9" x2="256.26" y2="304.4" stroke="#111" stroke-width="0.6"/>
<line x1="261.1" y1="302.9" x2="261.1" y2="305.5" stroke="#111" stroke-width="0.9"/>
<line x1="265.94" y1="302.9" x2="265.94" y2="304.4" stroke="#111" stroke-width="0.6"/>
<line x1="270.78" y1="302.9" x2="270.78" y2="304.4" stroke="#111" stroke-width="0.6"/>
<line x1="275.62" y1="302.9" x2="275.62" y2="304.4" stroke="#111" stroke-width="0.6"/>
<line x1="280.46" y1="302.9" x2="280.46" y2="304.4" stroke="#111" stroke-width="0.6"/>
<line x1="285.3" y1="302.9" x2="285.3" y2="305.5" stroke="#111" stroke-width="0.9"/>
<line x1="290.14" y1="302.9" x2="290.14" y2="304.4" stroke="#111" stroke-width="0.6"/>
<line x1="294.98" y1="302.9" x2="294.98" y2="304.4" stroke="#111" stroke-width="0.6"/>
<line x1="299.82" y1="302.9" x2="299.82" y2="304.4" stroke="#111" stroke-width="0.6"/>
<text x="206.7" y="240.6" font-size="6.4" text-anchor="end" textLength="17.3" lengthAdjust="spacingAndGlyphs">8,000</text>
<text x="206.7" y="278.5" font-size="6.4" text-anchor="end" textLength="17.3" lengthAdjust="spacingAndGlyphs">6,000</text>
<text x="212.9" y="315.3" font-size="6.2" text-anchor="middle">0</text>
<text x="237.1" y="315.3" font-size="6.2" text-anchor="middle">50</text>
<text x="261.3" y="315.3" font-size="6.2" text-anchor="middle">100</text>
<text x="285.5" y="315.3" font-size="6.2" text-anchor="middle">150</text>
<text x="256" y="328.5" font-size="8" text-anchor="middle" textLength="45.5" lengthAdjust="spacingAndGlyphs">Time (seconds)</text>
<text x="180.8" y="261.2" font-size="8" text-anchor="middle" transform="rotate(-90 180.8 261.2)" textLength="45.3" lengthAdjust="spacingAndGlyphs" dominant-baseline="central">Fluo-4 (FITC-A)</text>
<line x1="255.5" y1="226.5" x2="267.6" y2="226.5" stroke="#2b4a95" stroke-width="1"/>
<text x="270.3" y="228.9" font-size="6.6" textLength="12.5" lengthAdjust="spacingAndGlyphs">NSC</text>
<line x1="255.5" y1="233.6" x2="267.6" y2="233.6" stroke="#c0203f" stroke-width="1"/>
<text x="270.3" y="236" font-size="6.6" textLength="27.6" lengthAdjust="spacingAndGlyphs">si-ZAP-70</text>
<text x="220.2" y="239.7" font-size="5.8" textLength="17.4" lengthAdjust="spacingAndGlyphs">α-IgM</text>
<line x1="228.8" y1="244.9" x2="228.8" y2="269.5" stroke="#111" stroke-width="1"/>
<path d="M227,268.8 L230.6,268.8 L228.8,272.2 Z" fill="#111" stroke="none" stroke-width="0"/>
<polyline points="212.6,294.8 214,290 216,286.5 217.5,284.8 219,285.5 220.5,284.5 222,285.2 224,285.6 226,284.9 227.5,285.9 229,285.1 230.3,283.5" fill="none" stroke="#2b4a95" stroke-width="1.15" stroke-linejoin="round"/>
<polyline points="233.3,300.8 234.5,297 235.5,285 236.5,272 237.6,263 238.6,259.4 240.4,255.5 242.4,252.4 244,251 246,250.6 247.5,249.5 249.5,248.3 251,249.4 253,250.2 255,249.8 257,251.2 259,251.5 260.6,252.4 263,253.2 265,252.8 267,254.5 270,255.4 273,256.4 276,257.3 278,258.2 280.8,260.4 283,260.8 286,261.8 289,263.6 292,265.4 295,266.5 297,267.6 299.8,268.5" fill="none" stroke="#2b4a95" stroke-width="1.15" stroke-linejoin="round"/>
<polyline points="212.6,286.7 214.5,286.2 216.5,285.5 218.2,285.1 220,286.2 222,287.5 224,288.8 226.3,290.2 227.8,291.5 228.8,294 229.9,297.8" fill="none" stroke="#c0203f" stroke-width="1.15" stroke-linejoin="round"/>
<polyline points="232.3,296.8 233.5,291.5 234.8,281 236,269 237.4,261.4 239,257 241,254.2 243,252.4 245,250.4 247,248.5 248.5,246.9 250.5,247.6 253,248.6 255,249.2 257,249.6 260.6,251.3 263,251.6 266,252.3 268,252.6 271,253.9 274.7,254.4 277,255 279,255.4 281,256.8 283,256.6 284.8,258.4 287,258.6 290,260.5 293,262.5 296,264.6 299.8,266.5" fill="none" stroke="#c0203f" stroke-width="1.15" stroke-linejoin="round"/>
<text x="315.4" y="191.2" font-size="14" font-weight="bold" fill="#000">E</text>
<line x1="360.6" y1="215" x2="360.6" y2="303.2" stroke="#111" stroke-width="1.4"/>
<line x1="358.6" y1="218" x2="360.6" y2="218" stroke="#111" stroke-width="1.12"/>
<text x="353.4" y="220.34" font-size="6.5" text-anchor="end">4</text>
<line x1="358.6" y1="239.4" x2="360.6" y2="239.4" stroke="#111" stroke-width="1.12"/>
<text x="353.4" y="241.74" font-size="6.5" text-anchor="end">3</text>
<line x1="358.6" y1="260.9" x2="360.6" y2="260.9" stroke="#111" stroke-width="1.12"/>
<text x="353.4" y="263.24" font-size="6.5" text-anchor="end">2</text>
<line x1="358.6" y1="282.1" x2="360.6" y2="282.1" stroke="#111" stroke-width="1.12"/>
<text x="353.4" y="284.44" font-size="6.5" text-anchor="end">1</text>
<line x1="358.6" y1="303.2" x2="360.6" y2="303.2" stroke="#111" stroke-width="1.12"/>
<text x="353.4" y="305.54" font-size="6.5" text-anchor="end">0</text>
<line x1="360" y1="303.2" x2="417.3" y2="303.2" stroke="#111" stroke-width="1.4"/>
<line x1="376.5" y1="303.2" x2="376.5" y2="305.5" stroke="#111" stroke-width="1.12"/>
<line x1="400.7" y1="303.2" x2="400.7" y2="305.5" stroke="#111" stroke-width="1.12"/>
<text x="377" y="316.6" font-size="6.6" text-anchor="middle" textLength="12.9" lengthAdjust="spacingAndGlyphs">NSC</text>
<text x="401.2" y="316.6" font-size="6.6" text-anchor="middle" textLength="20.7" lengthAdjust="spacingAndGlyphs">ZAP-70</text>
<line x1="367.2" y1="321.2" x2="416.6" y2="321.2" stroke="#111" stroke-width="1"/>
<text x="392.5" y="331.6" font-size="7.2" text-anchor="middle" textLength="18.2" lengthAdjust="spacingAndGlyphs">siRNA</text>
<text x="341.7" y="259.4" font-size="8" text-anchor="middle" transform="rotate(-90 341.7 259.4)" textLength="84" lengthAdjust="spacingAndGlyphs" dominant-baseline="central">Ca2+ ratio (peak/baseline)</text>
<line x1="375.5" y1="231.1" x2="399.5" y2="231.1" stroke="#111" stroke-width="1.3"/>
<text x="387.5" y="229.4" font-size="6" text-anchor="middle">ns</text>
<line x1="368.8" y1="268.5" x2="385" y2="268.5" stroke="#111" stroke-width="1.1"/>
<line x1="376.8" y1="263.5" x2="376.8" y2="273.5" stroke="#1c3a86" stroke-width="1.1"/>
<line x1="373.05" y1="263.5" x2="380.55" y2="263.5" stroke="#1c3a86" stroke-width="1.1"/>
<line x1="373.05" y1="273.5" x2="380.55" y2="273.5" stroke="#1c3a86" stroke-width="1.1"/>
<rect x="375" y="238.8" width="3.2" height="3.2" fill="#1c3a86"/>
<rect x="375" y="263.8" width="3.2" height="3.2" fill="#1c3a86"/>
<rect x="375" y="268.7" width="3.2" height="3.2" fill="#1c3a86"/>
<rect x="372.8" y="273.4" width="3.2" height="3.2" fill="#1c3a86"/>
<rect x="376.9" y="274.4" width="3.2" height="3.2" fill="#1c3a86"/>
<rect x="381.5" y="274.3" width="3.2" height="3.2" fill="#1c3a86"/>
<rect x="368.7" y="275.3" width="3.2" height="3.2" fill="#1c3a86"/>
<line x1="368.8" y1="268.5" x2="385" y2="268.5" stroke="#111" stroke-width="1.1"/>
<line x1="401.3" y1="268.1" x2="401.3" y2="272.8" stroke="#b00c32" stroke-width="1.1"/>
<line x1="397.8" y1="268.1" x2="404.8" y2="268.1" stroke="#b00c32" stroke-width="1.1"/>
<line x1="397.8" y1="272.8" x2="404.8" y2="272.8" stroke="#b00c32" stroke-width="1.1"/>
<path d="M399.5,257.78 L403.1,257.78 L401.3,261.02 Z" fill="#b00c32" stroke="none" stroke-width="0"/>
<path d="M396,264.88 L399.6,264.88 L397.8,268.12 Z" fill="#b00c32" stroke="none" stroke-width="0"/>
<path d="M403,264.28 L406.6,264.28 L404.8,267.52 Z" fill="#b00c32" stroke="none" stroke-width="0"/>
<path d="M396,270.88 L399.6,270.88 L397.8,274.12 Z" fill="#b00c32" stroke="none" stroke-width="0"/>
<path d="M399.7,270.68 L403.3,270.68 L401.5,273.92 Z" fill="#b00c32" stroke="none" stroke-width="0"/>
<path d="M403,270.28 L406.6,270.28 L404.8,273.52 Z" fill="#b00c32" stroke="none" stroke-width="0"/>
<path d="M403,274.38 L406.6,274.38 L404.8,277.62 Z" fill="#b00c32" stroke="none" stroke-width="0"/>
<path d="M396,277.18 L399.6,277.18 L397.8,280.42 Z" fill="#b00c32" stroke="none" stroke-width="0"/>
<line x1="393.1" y1="270.6" x2="409" y2="270.6" stroke="#111" stroke-width="1.1"/>
<text x="7" y="360.9" font-size="14" font-weight="bold" fill="#000">F</text>
<text x="50.2" y="373.1" font-size="6.4" text-anchor="middle">NSC</text>
<line x1="37.8" y1="375.9" x2="62" y2="375.9" stroke="#111" stroke-width="1.1"/>
<text x="80.1" y="373.1" font-size="6.4" text-anchor="middle" textLength="24.3" lengthAdjust="spacingAndGlyphs">siZAP-70</text>
<line x1="66.8" y1="375.9" x2="93.3" y2="375.9" stroke="#111" stroke-width="1.1"/>
<text x="23" y="383.7" font-size="6.3" textLength="11" lengthAdjust="spacingAndGlyphs">kDa</text>
<text x="42.6" y="383.4" font-size="5.6" text-anchor="middle">-</text>
<text x="57.6" y="383.4" font-size="5.6" text-anchor="middle">+</text>
<text x="74" y="383.4" font-size="5.6" text-anchor="middle">-</text>
<text x="89.6" y="383.4" font-size="5.6" text-anchor="middle">+</text>
<text x="98" y="384.3" font-size="6.4" textLength="18.2" lengthAdjust="spacingAndGlyphs">α-IgM</text>
<rect x="34.9" y="386.4" width="62.1" height="18.9" fill="#f6f6f6"/>
<rect x="34.9" y="408.8" width="62.1" height="18.6" fill="#f7f7f7"/>
<rect x="34.9" y="430.4" width="62.1" height="19.1" fill="#f5f5f5"/>
<rect x="34.9" y="452.3" width="62.1" height="19.3" fill="#f2f2f2"/>
<rect x="34.9" y="474.2" width="62.1" height="19.3" fill="#e6e6e6"/>
<rect x="34.9" y="496.5" width="62.1" height="18.8" fill="#f3f3f3"/>
<rect x="34.9" y="519.1" width="62.1" height="19.2" fill="#f8f8f8"/>
<rect x="34.9" y="542.3" width="62.1" height="18.9" fill="#ececec"/>
<rect x="50.6" y="390.7" width="12.4" height="6.6" rx="1.5" fill="#141414" filter="url(#b10)"/>
<rect x="82.6" y="390.8" width="12.8" height="6.4" rx="1.5" fill="#262626" filter="url(#b10)"/>
<rect x="52" y="416" width="12.2" height="4.8" rx="1.5" fill="#0a0a0a" filter="url(#b8)"/>
<rect x="82.8" y="416.1" width="12.2" height="4.4" rx="1.5" fill="#242424" filter="url(#b8)"/>
<rect x="38" y="439.7" width="10.6" height="1.8" rx="0.9" fill="#c4c4c4" filter="url(#b5)"/>
<rect x="52.6" y="438.6" width="11.4" height="2.6" rx="1.3" fill="#161616" filter="url(#b5)"/>
<rect x="68.6" y="438.4" width="10.4" height="1.8" rx="0.9" fill="#bdbdbd" filter="url(#b5)"/>
<rect x="83.4" y="436.9" width="11.2" height="2.6" rx="1.3" fill="#0e0e0e" filter="url(#b5)"/>
<rect x="38.2" y="459.3" width="12.2" height="5" rx="1.5" fill="#383838" filter="url(#b6)"/>
<rect x="53.8" y="459.6" width="11.9" height="4.6" rx="1.5" fill="#5e5e5e" filter="url(#b6)"/>
<rect x="68.6" y="458.7" width="11.4" height="5.2" rx="1.5" fill="#0e0e0e" filter="url(#b6)"/>
<rect x="83.2" y="457.7" width="11.5" height="4.8" rx="1.5" fill="#323232" filter="url(#b6)"/>
<rect x="37" y="481.5" width="13.2" height="4.4" rx="1.5" fill="#858585" filter="url(#b7)"/>
<rect x="53.2" y="481.5" width="12.2" height="4.4" rx="1.5" fill="#828282" filter="url(#b7)"/>
<rect x="68.2" y="481.2" width="11.8" height="4.6" rx="1.5" fill="#686868" filter="url(#b7)"/>
<rect x="82.6" y="480.9" width="12.4" height="4.6" rx="1.5" fill="#626262" filter="url(#b7)"/>
<rect x="38.4" y="505.7" width="12" height="3" rx="1.5" fill="#878787" filter="url(#b5)"/>
<rect x="53.6" y="505.3" width="11.8" height="3" rx="1.5" fill="#7f7f7f" filter="url(#b5)"/>
<rect x="68.2" y="504.4" width="11.8" height="3" rx="1.5" fill="#5a5a5a" filter="url(#b5)"/>
<rect x="83.2" y="503.3" width="11.5" height="3" rx="1.5" fill="#565656" filter="url(#b5)"/>
<rect x="37.8" y="529.1" width="10.8" height="2" rx="1" fill="#0c0c0c" filter="url(#b4)"/>
<rect x="53.6" y="528.6" width="11.2" height="2.8" rx="1.4" fill="#000" filter="url(#b4)"/>
<rect x="68.8" y="529.35" width="9.6" height="1.3" rx="0.65" fill="#d6d6d6" filter="url(#b4)"/>
<rect x="83.6" y="528.9" width="9.6" height="1.4" rx="0.7" fill="#c2c2c2" filter="url(#b4)"/>
<rect x="37.4" y="550.6" width="13.9" height="4.8" rx="1.5" fill="#868686" filter="url(#b7)"/>
<rect x="53.6" y="550.6" width="12.9" height="4.8" rx="1.5" fill="#888" filter="url(#b7)"/>
<rect x="68" y="549.9" width="12.5" height="4.8" rx="1.5" fill="#888" filter="url(#b7)"/>
<rect x="82.4" y="549" width="12.3" height="4.8" rx="1.5" fill="#838383" filter="url(#b7)"/>
<rect x="35.65" y="387.15" width="60.6" height="17.4" fill="none" stroke="#111" stroke-width="1.5" rx="0.6"/>
<rect x="35.65" y="409.55" width="60.6" height="17.1" fill="none" stroke="#111" stroke-width="1.5" rx="0.6"/>
<rect x="35.65" y="431.15" width="60.6" height="17.6" fill="none" stroke="#111" stroke-width="1.5" rx="0.6"/>
<rect x="35.65" y="453.05" width="60.6" height="17.8" fill="none" stroke="#111" stroke-width="1.5" rx="0.6"/>
<rect x="35.65" y="474.95" width="60.6" height="17.8" fill="none" stroke="#111" stroke-width="1.5" rx="0.6"/>
<rect x="35.65" y="497.25" width="60.6" height="17.3" fill="none" stroke="#111" stroke-width="1.5" rx="0.6"/>
<rect x="35.65" y="519.85" width="60.6" height="17.7" fill="none" stroke="#111" stroke-width="1.5" rx="0.6"/>
<rect x="35.65" y="543.05" width="60.6" height="17.4" fill="none" stroke="#111" stroke-width="1.5" rx="0.6"/>
<text x="32.8" y="399" font-size="6.6" text-anchor="end">70-</text>
<text x="32.8" y="422.3" font-size="6.6" text-anchor="end">70-</text>
<text x="32.8" y="446" font-size="6.6" text-anchor="end">140-</text>
<text x="32.8" y="464.2" font-size="6.6" text-anchor="end">70-</text>
<text x="32.8" y="488.2" font-size="6.6" text-anchor="end">70-</text>
<text x="32.8" y="512" font-size="6.6" text-anchor="end">140-</text>
<text x="32.8" y="532" font-size="6.6" text-anchor="end">70-</text>
<text x="32.8" y="554.4" font-size="6.6" text-anchor="end">42-</text>
<text x="98.7" y="398.4" font-size="6.7" textLength="23.2" lengthAdjust="spacingAndGlyphs">pi-BLNK</text>
<text x="98.7" y="420.6" font-size="6.7" textLength="18.2" lengthAdjust="spacingAndGlyphs">pi-SYK</text>
<text x="98.7" y="442.7" font-size="6.7" textLength="22.4" lengthAdjust="spacingAndGlyphs">piPLCγ2</text>
<text x="98.7" y="464.8" font-size="6.7" textLength="16" lengthAdjust="spacingAndGlyphs">BLNK</text>
<text x="98.7" y="487" font-size="6.7" textLength="11.2" lengthAdjust="spacingAndGlyphs">SYK</text>
<text x="98.7" y="509.4" font-size="6.7" textLength="17.4" lengthAdjust="spacingAndGlyphs">PLCγ2</text>
<text x="98.7" y="531.4" font-size="6.7" textLength="20.7" lengthAdjust="spacingAndGlyphs">ZAP-70</text>
<text x="98.7" y="554.1" font-size="6.7" textLength="19.3" lengthAdjust="spacingAndGlyphs">β-actin</text>
<text x="153.2" y="360.8" font-size="14" font-weight="bold" fill="#000">G</text>
<rect x="303.25" y="347.35" width="2.9" height="2.9" fill="none" stroke="#1c3a86" stroke-width="1.0"/>
<text x="310" y="351" font-size="6.6" textLength="13.2" lengthAdjust="spacingAndGlyphs">NSC</text>
<rect x="303.3" y="355.4" width="2.8" height="2.8" fill="#1c3a86"/>
<text x="310" y="359" font-size="6.6" textLength="13.2" lengthAdjust="spacingAndGlyphs">NSC</text>
<path d="M332.76,346.96 L336.84,346.96 L334.8,350.64 Z" fill="none" stroke="#b00c32" stroke-width="1" stroke-linejoin="round"/>
<text x="338.8" y="351" font-size="6.6" textLength="66.5" lengthAdjust="spacingAndGlyphs">siZAP-70 (unstimulated)</text>
<path d="M333.8,355.54 L336.6,355.54 L335.2,358.06 Z" fill="#b00c32" stroke="none" stroke-width="0"/>
<text x="338.8" y="359" font-size="6.6" textLength="54.3" lengthAdjust="spacingAndGlyphs">siZAP-70 (anti-IgM)</text>
<text x="173.3" y="422.6" font-size="8" text-anchor="middle" transform="rotate(-90 173.3 422.6)" textLength="64.7" lengthAdjust="spacingAndGlyphs">Relative protein level</text>
<text x="183.7" y="422.6" font-size="8" text-anchor="middle" transform="rotate(-90 183.7 422.6)" textLength="47.9" lengthAdjust="spacingAndGlyphs">(phospho/total)</text>
<line x1="200.8" y1="379.6" x2="200.8" y2="467.3" stroke="#111" stroke-width="1.45"/>
<line x1="198" y1="382.2" x2="200.8" y2="382.2" stroke="#111" stroke-width="1.16"/>
<text x="194" y="384.47" font-size="6.3" text-anchor="end">4</text>
<line x1="198" y1="403.5" x2="200.8" y2="403.5" stroke="#111" stroke-width="1.16"/>
<text x="194" y="405.77" font-size="6.3" text-anchor="end">3</text>
<line x1="198" y1="425" x2="200.8" y2="425" stroke="#111" stroke-width="1.16"/>
<text x="194" y="427.27" font-size="6.3" text-anchor="end">2</text>
<line x1="198" y1="446.4" x2="200.8" y2="446.4" stroke="#111" stroke-width="1.16"/>
<text x="194" y="448.67" font-size="6.3" text-anchor="end">1</text>
<line x1="198" y1="467.3" x2="200.8" y2="467.3" stroke="#111" stroke-width="1.16"/>
<text x="194" y="469.57" font-size="6.3" text-anchor="end">0</text>
<line x1="200.1" y1="467.3" x2="258" y2="467.3" stroke="#111" stroke-width="1.45"/>
<line x1="229.3" y1="467.3" x2="229.3" y2="469.7" stroke="#111" stroke-width="1.16"/>
<rect x="209.9" y="450.8" width="15.1" height="16.5" fill="#8f98bd"/>
<rect x="234.1" y="454.6" width="14.9" height="12.7" fill="#d08a7c"/>
<line x1="217.4" y1="440.2" x2="217.4" y2="459.4" stroke="#1c3a86" stroke-width="1.1"/>
<line x1="214.9" y1="440.2" x2="219.9" y2="440.2" stroke="#1c3a86" stroke-width="1.1"/>
<line x1="214.9" y1="459.4" x2="219.9" y2="459.4" stroke="#1c3a86" stroke-width="1.1"/>
<line x1="241.7" y1="449.3" x2="241.7" y2="458.5" stroke="#b00c32" stroke-width="1.1"/>
<line x1="239.2" y1="449.3" x2="244.2" y2="449.3" stroke="#b00c32" stroke-width="1.1"/>
<line x1="239.2" y1="458.5" x2="244.2" y2="458.5" stroke="#b00c32" stroke-width="1.1"/>
<rect x="215.8" y="402.3" width="3.2" height="3.2" fill="#1c3a86"/>
<rect x="209.2" y="455.3" width="3.2" height="3.2" fill="#1c3a86"/>
<rect x="215.8" y="455.3" width="3.2" height="3.2" fill="#1c3a86"/>
<rect x="222.2" y="455.7" width="3.2" height="3.2" fill="#1c3a86"/>
<rect x="218.9" y="459.7" width="3.2" height="3.2" fill="#1c3a86"/>
<rect x="212.3" y="462.8" width="3.2" height="3.2" fill="#1c3a86"/>
<path d="M239.9,428.98 L243.5,428.98 L241.7,432.22 Z" fill="#b00c32" stroke="none" stroke-width="0"/>
<path d="M236.3,452.08 L239.9,452.08 L238.1,455.32 Z" fill="#b00c32" stroke="none" stroke-width="0"/>
<path d="M243.4,452.98 L247,452.98 L245.2,456.22 Z" fill="#b00c32" stroke="none" stroke-width="0"/>
<path d="M236.3,456.48 L239.9,456.48 L238.1,459.72 Z" fill="#b00c32" stroke="none" stroke-width="0"/>
<path d="M236.3,460.28 L239.9,460.28 L238.1,463.52 Z" fill="#b00c32" stroke="none" stroke-width="0"/>
<path d="M243.4,459.68 L247,459.68 L245.2,462.92 Z" fill="#b00c32" stroke="none" stroke-width="0"/>
<line x1="217.1" y1="394.1" x2="240.6" y2="394.1" stroke="#111" stroke-width="1.3"/>
<text x="228.85" y="390.9" font-size="5.6" text-anchor="middle">ns</text>
<text x="229.8" y="373.5" font-size="8.4" text-anchor="middle" textLength="29.6" lengthAdjust="spacingAndGlyphs">piBLNK</text>
<text x="229.7" y="480.2" font-size="6.3" text-anchor="middle" textLength="17.4" lengthAdjust="spacingAndGlyphs">α-IgM</text>
<line x1="285" y1="379.6" x2="285" y2="467.3" stroke="#111" stroke-width="1.45"/>
<line x1="282.2" y1="381.9" x2="285" y2="381.9" stroke="#111" stroke-width="1.16"/>
<text x="277.9" y="384.17" font-size="6.3" text-anchor="end">2.5</text>
<line x1="282.2" y1="399.2" x2="285" y2="399.2" stroke="#111" stroke-width="1.16"/>
<text x="277.9" y="401.47" font-size="6.3" text-anchor="end">2.0</text>
<line x1="282.2" y1="416.3" x2="285" y2="416.3" stroke="#111" stroke-width="1.16"/>
<text x="277.9" y="418.57" font-size="6.3" text-anchor="end">1.5</text>
<line x1="282.2" y1="433.3" x2="285" y2="433.3" stroke="#111" stroke-width="1.16"/>
<text x="277.9" y="435.57" font-size="6.3" text-anchor="end">1.0</text>
<line x1="282.2" y1="450.3" x2="285" y2="450.3" stroke="#111" stroke-width="1.16"/>
<text x="277.9" y="452.57" font-size="6.3" text-anchor="end">0.5</text>
<line x1="282.2" y1="467.3" x2="285" y2="467.3" stroke="#111" stroke-width="1.16"/>
<text x="277.9" y="469.57" font-size="6.3" text-anchor="end">0.0</text>
<line x1="284.3" y1="467.3" x2="341.7" y2="467.3" stroke="#111" stroke-width="1.45"/>
<line x1="313.9" y1="467.3" x2="313.9" y2="469.7" stroke="#111" stroke-width="1.16"/>
<rect x="294" y="443" width="14.9" height="24.3" fill="#8f98bd"/>
<rect x="318.1" y="442" width="15" height="25.3" fill="#d08a7c"/>
<line x1="301.3" y1="435.4" x2="301.3" y2="448.4" stroke="#1c3a86" stroke-width="1.1"/>
<line x1="298.8" y1="435.4" x2="303.8" y2="435.4" stroke="#1c3a86" stroke-width="1.1"/>
<line x1="298.8" y1="448.4" x2="303.8" y2="448.4" stroke="#1c3a86" stroke-width="1.1"/>
<line x1="325.7" y1="431.7" x2="325.7" y2="450.6" stroke="#b00c32" stroke-width="1.1"/>
<line x1="323.2" y1="431.7" x2="328.2" y2="431.7" stroke="#b00c32" stroke-width="1.1"/>
<line x1="323.2" y1="450.6" x2="328.2" y2="450.6" stroke="#b00c32" stroke-width="1.1"/>
<rect x="295.9" y="426.9" width="3.2" height="3.2" fill="#1c3a86"/>
<rect x="302.9" y="424" width="3.2" height="3.2" fill="#1c3a86"/>
<rect x="295.9" y="436.7" width="3.2" height="3.2" fill="#1c3a86"/>
<rect x="302.9" y="433.8" width="3.2" height="3.2" fill="#1c3a86"/>
<rect x="295.9" y="460.6" width="3.2" height="3.2" fill="#1c3a86"/>
<rect x="302.9" y="460.6" width="3.2" height="3.2" fill="#1c3a86"/>
<path d="M323.9,399.48 L327.5,399.48 L325.7,402.72 Z" fill="#b00c32" stroke="none" stroke-width="0"/>
<path d="M323.9,426.28 L327.5,426.28 L325.7,429.52 Z" fill="#b00c32" stroke="none" stroke-width="0"/>
<path d="M323.9,439.48 L327.5,439.48 L325.7,442.72 Z" fill="#b00c32" stroke="none" stroke-width="0"/>
<path d="M323.9,444.58 L327.5,444.58 L325.7,447.82 Z" fill="#b00c32" stroke="none" stroke-width="0"/>
<path d="M320.3,462.58 L323.9,462.58 L322.1,465.82 Z" fill="#b00c32" stroke="none" stroke-width="0"/>
<path d="M327.3,460.28 L330.9,460.28 L329.1,463.52 Z" fill="#b00c32" stroke="none" stroke-width="0"/>
<line x1="302" y1="396.1" x2="325.7" y2="396.1" stroke="#111" stroke-width="1.3"/>
<text x="313.85" y="392.9" font-size="5.6" text-anchor="middle">ns</text>
<text x="313.7" y="374.2" font-size="8.4" text-anchor="middle" textLength="23.5" lengthAdjust="spacingAndGlyphs">piSYK</text>
<text x="313.9" y="479.8" font-size="6.3" text-anchor="middle" textLength="17.4" lengthAdjust="spacingAndGlyphs">α-IgM</text>
<line x1="367" y1="378.8" x2="367" y2="467.3" stroke="#111" stroke-width="1.45"/>
<line x1="364.2" y1="381.9" x2="367" y2="381.9" stroke="#111" stroke-width="1.16"/>
<text x="361.6" y="384.17" font-size="6.3" text-anchor="end">1.5</text>
<line x1="364.2" y1="410.4" x2="367" y2="410.4" stroke="#111" stroke-width="1.16"/>
<text x="361.6" y="412.67" font-size="6.3" text-anchor="end">1.0</text>
<line x1="364.2" y1="438.8" x2="367" y2="438.8" stroke="#111" stroke-width="1.16"/>
<text x="361.6" y="441.07" font-size="6.3" text-anchor="end">0.5</text>
<line x1="364.2" y1="467.3" x2="367" y2="467.3" stroke="#111" stroke-width="1.16"/>
<text x="361.6" y="469.57" font-size="6.3" text-anchor="end">0.0</text>
<line x1="366.3" y1="467.3" x2="425" y2="467.3" stroke="#111" stroke-width="1.45"/>
<line x1="395.8" y1="467.3" x2="395.8" y2="469.7" stroke="#111" stroke-width="1.16"/>
<rect x="376.2" y="422.7" width="15" height="44.6" fill="#8f98bd"/>
<rect x="400.1" y="437.3" width="15.2" height="30" fill="#d08a7c"/>
<line x1="383.5" y1="413.2" x2="383.5" y2="430.1" stroke="#1c3a86" stroke-width="1.1"/>
<line x1="381" y1="413.2" x2="386" y2="413.2" stroke="#1c3a86" stroke-width="1.1"/>
<line x1="381" y1="430.1" x2="386" y2="430.1" stroke="#1c3a86" stroke-width="1.1"/>
<line x1="407.8" y1="430.4" x2="407.8" y2="444.2" stroke="#b00c32" stroke-width="1.1"/>
<line x1="405.3" y1="430.4" x2="410.3" y2="430.4" stroke="#b00c32" stroke-width="1.1"/>
<line x1="405.3" y1="444.2" x2="410.3" y2="444.2" stroke="#b00c32" stroke-width="1.1"/>
<rect x="381.9" y="394.6" width="3.2" height="3.2" fill="#1c3a86"/>
<rect x="381.9" y="398.8" width="3.2" height="3.2" fill="#1c3a86"/>
<rect x="381.9" y="414.6" width="3.2" height="3.2" fill="#1c3a86"/>
<rect x="378" y="439.2" width="3.2" height="3.2" fill="#1c3a86"/>
<rect x="381.9" y="435.2" width="3.2" height="3.2" fill="#1c3a86"/>
<rect x="385.4" y="439.2" width="3.2" height="3.2" fill="#1c3a86"/>
<path d="M406.3,413.88 L409.9,413.88 L408.1,417.12 Z" fill="#b00c32" stroke="none" stroke-width="0"/>
<path d="M406.3,421.58 L409.9,421.58 L408.1,424.82 Z" fill="#b00c32" stroke="none" stroke-width="0"/>
<path d="M402.4,439.88 L406,439.88 L404.2,443.12 Z" fill="#b00c32" stroke="none" stroke-width="0"/>
<path d="M406.3,436.48 L409.9,436.48 L408.1,439.72 Z" fill="#b00c32" stroke="none" stroke-width="0"/>
<path d="M409.8,442.58 L413.4,442.58 L411.6,445.82 Z" fill="#b00c32" stroke="none" stroke-width="0"/>
<path d="M406.3,452.18 L409.9,452.18 L408.1,455.42 Z" fill="#b00c32" stroke="none" stroke-width="0"/>
<line x1="382.7" y1="390.8" x2="407" y2="390.8" stroke="#111" stroke-width="1.3"/>
<text x="394.85" y="387.6" font-size="5.6" text-anchor="middle">ns</text>
<text x="395.4" y="374" font-size="8.4" text-anchor="middle" textLength="31.2" lengthAdjust="spacingAndGlyphs">piPLCγ2</text>
<text x="396.2" y="480.4" font-size="6.3" text-anchor="middle" textLength="17.4" lengthAdjust="spacingAndGlyphs">α-IgM</text>
<line x1="449.9" y1="378.8" x2="449.9" y2="467.3" stroke="#111" stroke-width="1.45"/>
<line x1="447.1" y1="381.9" x2="449.9" y2="381.9" stroke="#111" stroke-width="1.16"/>
<text x="445.9" y="384.17" font-size="6.3" text-anchor="end">1.5</text>
<line x1="447.1" y1="410.7" x2="449.9" y2="410.7" stroke="#111" stroke-width="1.16"/>
<text x="445.9" y="412.97" font-size="6.3" text-anchor="end">1.0</text>
<line x1="447.1" y1="439.2" x2="449.9" y2="439.2" stroke="#111" stroke-width="1.16"/>
<text x="445.9" y="441.47" font-size="6.3" text-anchor="end">0.5</text>
<line x1="447.1" y1="467.3" x2="449.9" y2="467.3" stroke="#111" stroke-width="1.16"/>
<text x="445.9" y="469.57" font-size="6.3" text-anchor="end">0.0</text>
<line x1="449.2" y1="467.3" x2="506.8" y2="467.3" stroke="#111" stroke-width="1.45"/>
<line x1="478.5" y1="467.3" x2="478.5" y2="469.7" stroke="#111" stroke-width="1.16"/>
<rect x="458.4" y="437.3" width="14.6" height="30" fill="#8f98bd"/>
<rect x="483" y="448.8" width="14.8" height="18.5" fill="#d08a7c"/>
<line x1="465.8" y1="430.4" x2="465.8" y2="441.9" stroke="#1c3a86" stroke-width="1.1"/>
<line x1="463.3" y1="430.4" x2="468.3" y2="430.4" stroke="#1c3a86" stroke-width="1.1"/>
<line x1="463.3" y1="441.9" x2="468.3" y2="441.9" stroke="#1c3a86" stroke-width="1.1"/>
<line x1="490.1" y1="443.5" x2="490.1" y2="453.5" stroke="#b00c32" stroke-width="1.1"/>
<line x1="487.6" y1="443.5" x2="492.6" y2="443.5" stroke="#b00c32" stroke-width="1.1"/>
<line x1="487.6" y1="453.5" x2="492.6" y2="453.5" stroke="#b00c32" stroke-width="1.1"/>
<rect x="464.22" y="409.22" width="3.16" height="3.16" fill="none" stroke="#1c3a86" stroke-width="1.0"/>
<rect x="464.22" y="431.92" width="3.16" height="3.16" fill="none" stroke="#1c3a86" stroke-width="1.0"/>
<rect x="464.22" y="435.72" width="3.16" height="3.16" fill="none" stroke="#1c3a86" stroke-width="1.0"/>
<rect x="461.12" y="440.32" width="3.16" height="3.16" fill="none" stroke="#1c3a86" stroke-width="1.0"/>
<rect x="468.02" y="441.12" width="3.16" height="3.16" fill="none" stroke="#1c3a86" stroke-width="1.0"/>
<rect x="464.22" y="452.32" width="3.16" height="3.16" fill="none" stroke="#1c3a86" stroke-width="1.0"/>
<path d="M487.94,429.26 L492.26,429.26 L490.1,433.14 Z" fill="none" stroke="#b00c32" stroke-width="1" stroke-linejoin="round"/>
<path d="M487.94,435.36 L492.26,435.36 L490.1,439.24 Z" fill="none" stroke="#b00c32" stroke-width="1" stroke-linejoin="round"/>
<path d="M484.34,449.26 L488.66,449.26 L486.5,453.14 Z" fill="none" stroke="#b00c32" stroke-width="1" stroke-linejoin="round"/>
<path d="M491.34,446.16 L495.66,446.16 L493.5,450.04 Z" fill="none" stroke="#b00c32" stroke-width="1" stroke-linejoin="round"/>
<path d="M491.34,451.56 L495.66,451.56 L493.5,455.44 Z" fill="none" stroke="#b00c32" stroke-width="1" stroke-linejoin="round"/>
<path d="M487.94,461.56 L492.26,461.56 L490.1,465.44 Z" fill="none" stroke="#b00c32" stroke-width="1" stroke-linejoin="round"/>
<line x1="466.5" y1="391.2" x2="490.1" y2="391.2" stroke="#111" stroke-width="1.3"/>
<text x="478.3" y="388" font-size="5.6" text-anchor="middle">ns</text>
<text x="478.3" y="374.2" font-size="8.4" text-anchor="middle" textLength="31.2" lengthAdjust="spacingAndGlyphs">piPLCγ2</text>
<text x="478.5" y="479.6" font-size="6.3" text-anchor="middle" textLength="36.5" lengthAdjust="spacingAndGlyphs">unstimulated</text>
<text x="154.2" y="511.6" font-size="14" font-weight="bold" fill="#000">H</text>
<line x1="192.2" y1="525.1" x2="215.9" y2="525.1" stroke="#111" stroke-width="1.1"/>
<line x1="224" y1="525.1" x2="247.7" y2="525.1" stroke="#111" stroke-width="1.1"/>
<text x="204.1" y="523.6" font-size="5.8" text-anchor="middle">-</text>
<text x="235.8" y="523.8" font-size="5.8" text-anchor="middle">+</text>
<text x="255.6" y="523.2" font-size="6" textLength="17.6" lengthAdjust="spacingAndGlyphs">α-IgM</text>
<text x="178.3" y="532.7" font-size="5.2" textLength="8.5" lengthAdjust="spacingAndGlyphs">kDa</text>
<text x="191.3" y="532.7" font-size="5.2" textLength="9.9" lengthAdjust="spacingAndGlyphs">NSC</text>
<text x="204.1" y="532.7" font-size="5.2" textLength="16.7" lengthAdjust="spacingAndGlyphs">ZAP-70</text>
<text x="222.7" y="532.7" font-size="5.2" textLength="10.3" lengthAdjust="spacingAndGlyphs">NSC</text>
<text x="235.5" y="532.7" font-size="5.2" textLength="16.3" lengthAdjust="spacingAndGlyphs">ZAP-70</text>
<text x="255.6" y="532.7" font-size="5.2" textLength="13.5" lengthAdjust="spacingAndGlyphs">siRNA</text>
<rect x="188.9" y="534.3" width="63" height="19.9" fill="#f5f5f5"/>
<rect x="188.9" y="557.2" width="63" height="19.1" fill="#f6f6f6"/>
<rect x="188.9" y="578.1" width="63" height="20.1" fill="#e9e9e9"/>
<rect x="188.9" y="600" width="63" height="19.6" fill="#f0f0f0"/>
<rect x="191" y="542.9" width="11.6" height="4.4" rx="1.5" fill="#787878" filter="url(#b9)"/>
<rect x="206.7" y="543.1" width="11.5" height="4" rx="1.5" fill="#9c9c9c" filter="url(#b9)"/>
<rect x="221.6" y="538.2" width="15.2" height="10.4" rx="4.5" fill="#000" filter="url(#b8)"/>
<rect x="237.6" y="537.6" width="13.4" height="10.2" rx="4.5" fill="#000" filter="url(#b8)"/>
<rect x="190.4" y="565" width="12.8" height="3.4" rx="1.5" fill="#2e2e2e" filter="url(#b6)"/>
<rect x="206.7" y="565.2" width="11.5" height="3" rx="1.5" fill="#505050" filter="url(#b6)"/>
<rect x="220" y="559.8" width="17" height="11.8" rx="5.5" fill="#000" filter="url(#b8)"/>
<rect x="235" y="559.8" width="16" height="11.4" rx="5.5" fill="#000" filter="url(#b8)"/>
<rect x="222.2" y="586.1" width="12.8" height="3.4" rx="1.5" fill="#7e7e7e" filter="url(#b9)"/>
<rect x="237.6" y="586.2" width="13" height="3.2" rx="1.5" fill="#a2a2a2" filter="url(#b9)"/>
<rect x="190" y="608.2" width="13.8" height="4.4" rx="1.5" fill="#707070" filter="url(#b8)"/>
<rect x="206.6" y="608.2" width="12.6" height="4.4" rx="1.5" fill="#6c6c6c" filter="url(#b8)"/>
<rect x="222.6" y="608" width="12.8" height="4" rx="1.5" fill="#949494" filter="url(#b8)"/>
<rect x="238.4" y="608.2" width="12.2" height="4" rx="1.5" fill="#8a8a8a" filter="url(#b8)"/>
<rect x="189.65" y="535.05" width="61.5" height="18.4" fill="none" stroke="#111" stroke-width="1.5" rx="0.6"/>
<rect x="189.65" y="557.95" width="61.5" height="17.6" fill="none" stroke="#111" stroke-width="1.5" rx="0.6"/>
<rect x="189.65" y="578.85" width="61.5" height="18.6" fill="none" stroke="#111" stroke-width="1.5" rx="0.6"/>
<rect x="189.65" y="600.75" width="61.5" height="18.1" fill="none" stroke="#111" stroke-width="1.5" rx="0.6"/>
<text x="187" y="540.6" font-size="6.7" text-anchor="end" textLength="8.6" lengthAdjust="spacingAndGlyphs">70-</text>
<text x="187" y="561.4" font-size="6.7" text-anchor="end" textLength="8.6" lengthAdjust="spacingAndGlyphs">70-</text>
<text x="187" y="583.2" font-size="6.7" text-anchor="end" textLength="8.6" lengthAdjust="spacingAndGlyphs">70-</text>
<text x="187" y="605.4" font-size="6.7" text-anchor="end" textLength="8.6" lengthAdjust="spacingAndGlyphs">70-</text>
<text x="255.4" y="543.7" font-size="6.7" textLength="19.3" lengthAdjust="spacingAndGlyphs">pi-AKT</text>
<text x="255.8" y="550.6" font-size="6.7" textLength="18.3" lengthAdjust="spacingAndGlyphs">(T308)</text>
<text x="255.4" y="564.7" font-size="6.7" textLength="19.3" lengthAdjust="spacingAndGlyphs">pi-AKT</text>
<text x="256.2" y="572" font-size="6.7" textLength="17.6" lengthAdjust="spacingAndGlyphs">(s473)</text>
<text x="255.4" y="586.3" font-size="6.7" textLength="19.3" lengthAdjust="spacingAndGlyphs">pi-AKT</text>
<text x="256.2" y="593.7" font-size="6.7" textLength="17.6" lengthAdjust="spacingAndGlyphs">(s473)</text>
<text x="277.9" y="590.7" font-size="6.7" textLength="11" lengthAdjust="spacingAndGlyphs">[SE]</text>
<text x="259.5" y="612" font-size="6.7" textLength="11.3" lengthAdjust="spacingAndGlyphs">AKT</text>
<text x="316" y="510.9" font-size="14" font-weight="bold" fill="#000">I</text>
<text x="333.8" y="561.5" font-size="8" text-anchor="middle" transform="rotate(-90 333.8 561.5)" textLength="65.3" lengthAdjust="spacingAndGlyphs">Relative protein level</text>
<text x="344.6" y="561.5" font-size="8" text-anchor="middle" transform="rotate(-90 344.6 561.5)" textLength="49.7" lengthAdjust="spacingAndGlyphs">(phospho/total)</text>
<line x1="367.1" y1="517.2" x2="367.1" y2="606.2" stroke="#111" stroke-width="1.45"/>
<line x1="364.3" y1="520.8" x2="367.1" y2="520.8" stroke="#111" stroke-width="1.16"/>
<text x="360.9" y="523.07" font-size="6.3" text-anchor="end">2.0</text>
<line x1="364.3" y1="542" x2="367.1" y2="542" stroke="#111" stroke-width="1.16"/>
<text x="360.9" y="544.27" font-size="6.3" text-anchor="end">1.5</text>
<line x1="364.3" y1="563.5" x2="367.1" y2="563.5" stroke="#111" stroke-width="1.16"/>
<text x="360.9" y="565.77" font-size="6.3" text-anchor="end">1.0</text>
<line x1="364.3" y1="585" x2="367.1" y2="585" stroke="#111" stroke-width="1.16"/>
<text x="360.9" y="587.27" font-size="6.3" text-anchor="end">0.5</text>
<line x1="364.3" y1="606.2" x2="367.1" y2="606.2" stroke="#111" stroke-width="1.16"/>
<text x="360.9" y="608.47" font-size="6.3" text-anchor="end">0.0</text>
<line x1="366.4" y1="606.2" x2="424.6" y2="606.2" stroke="#111" stroke-width="1.45"/>
<line x1="395.8" y1="606.2" x2="395.8" y2="608.6" stroke="#111" stroke-width="1.16"/>
<rect x="376.1" y="554.1" width="15" height="52.1" fill="#8f98bd"/>
<rect x="400.3" y="563.8" width="14.9" height="42.4" fill="#d08a7c"/>
<line x1="383.4" y1="547.6" x2="383.4" y2="559.1" stroke="#1c3a86" stroke-width="1.1"/>
<line x1="380.9" y1="547.6" x2="385.9" y2="547.6" stroke="#1c3a86" stroke-width="1.1"/>
<line x1="380.9" y1="559.1" x2="385.9" y2="559.1" stroke="#1c3a86" stroke-width="1.1"/>
<line x1="408" y1="554.5" x2="408" y2="571.8" stroke="#b00c32" stroke-width="1.1"/>
<line x1="405.5" y1="554.5" x2="410.5" y2="554.5" stroke="#b00c32" stroke-width="1.1"/>
<line x1="405.5" y1="571.8" x2="410.5" y2="571.8" stroke="#b00c32" stroke-width="1.1"/>
<rect x="381.82" y="535.92" width="3.16" height="3.16" fill="none" stroke="#1c3a86" stroke-width="1.0"/>
<rect x="378.42" y="552.92" width="3.16" height="3.16" fill="none" stroke="#1c3a86" stroke-width="1.0"/>
<rect x="385.32" y="554.02" width="3.16" height="3.16" fill="none" stroke="#1c3a86" stroke-width="1.0"/>
<rect x="381.82" y="564.42" width="3.16" height="3.16" fill="none" stroke="#1c3a86" stroke-width="1.0"/>
<path d="M405.84,535.96 L410.16,535.96 L408,539.84 Z" fill="none" stroke="#b00c32" stroke-width="1" stroke-linejoin="round"/>
<path d="M402.34,565.76 L406.66,565.76 L404.5,569.64 Z" fill="none" stroke="#b00c32" stroke-width="1" stroke-linejoin="round"/>
<path d="M405.84,565.76 L410.16,565.76 L408,569.64 Z" fill="none" stroke="#b00c32" stroke-width="1" stroke-linejoin="round"/>
<path d="M409.64,565.76 L413.96,565.76 L411.8,569.64 Z" fill="none" stroke="#b00c32" stroke-width="1" stroke-linejoin="round"/>
<path d="M405.84,576.56 L410.16,576.56 L408,580.44 Z" fill="none" stroke="#b00c32" stroke-width="1" stroke-linejoin="round"/>
<line x1="384.4" y1="533.4" x2="408" y2="533.4" stroke="#111" stroke-width="1.3"/>
<text x="395.9" y="511.9" font-size="8.4" text-anchor="middle" textLength="51" lengthAdjust="spacingAndGlyphs">piAKT (T308)</text>
<text x="396.2" y="618.7" font-size="6.3" text-anchor="middle" textLength="36" lengthAdjust="spacingAndGlyphs">unstimulated</text>
<text x="396" y="530.5" font-size="5.2" text-anchor="middle" textLength="20.5" lengthAdjust="spacingAndGlyphs">p=0.05</text>
<line x1="454.9" y1="517.2" x2="454.9" y2="606.2" stroke="#111" stroke-width="1.45"/>
<line x1="452.1" y1="520.8" x2="454.9" y2="520.8" stroke="#111" stroke-width="1.16"/>
<text x="447.9" y="523.07" font-size="6.3" text-anchor="end">2.0</text>
<line x1="452.1" y1="542.3" x2="454.9" y2="542.3" stroke="#111" stroke-width="1.16"/>
<text x="447.9" y="544.57" font-size="6.3" text-anchor="end">1.5</text>
<line x1="452.1" y1="563.5" x2="454.9" y2="563.5" stroke="#111" stroke-width="1.16"/>
<text x="447.9" y="565.77" font-size="6.3" text-anchor="end">1.0</text>
<line x1="452.1" y1="584.7" x2="454.9" y2="584.7" stroke="#111" stroke-width="1.16"/>
<text x="447.9" y="586.97" font-size="6.3" text-anchor="end">0.5</text>
<line x1="452.1" y1="606.2" x2="454.9" y2="606.2" stroke="#111" stroke-width="1.16"/>
<text x="447.9" y="608.47" font-size="6.3" text-anchor="end">0.0</text>
<line x1="454.2" y1="606.2" x2="511.7" y2="606.2" stroke="#111" stroke-width="1.45"/>
<line x1="483" y1="606.2" x2="483" y2="608.6" stroke="#111" stroke-width="1.16"/>
<rect x="463.2" y="578.1" width="14.9" height="28.1" fill="#8f98bd"/>
<rect x="487.7" y="580.8" width="15" height="25.4" fill="#d08a7c"/>
<line x1="470.8" y1="565.6" x2="470.8" y2="588.2" stroke="#1c3a86" stroke-width="1.1"/>
<line x1="468.3" y1="565.6" x2="473.3" y2="565.6" stroke="#1c3a86" stroke-width="1.1"/>
<line x1="468.3" y1="588.2" x2="473.3" y2="588.2" stroke="#1c3a86" stroke-width="1.1"/>
<line x1="495" y1="570.2" x2="495" y2="589.8" stroke="#b00c32" stroke-width="1.1"/>
<line x1="492.5" y1="570.2" x2="497.5" y2="570.2" stroke="#b00c32" stroke-width="1.1"/>
<line x1="492.5" y1="589.8" x2="497.5" y2="589.8" stroke="#b00c32" stroke-width="1.1"/>
<rect x="469.22" y="536.32" width="3.16" height="3.16" fill="none" stroke="#1c3a86" stroke-width="1.0"/>
<rect x="465.32" y="574.42" width="3.16" height="3.16" fill="none" stroke="#1c3a86" stroke-width="1.0"/>
<rect x="472.22" y="571.62" width="3.16" height="3.16" fill="none" stroke="#1c3a86" stroke-width="1.0"/>
<rect x="465.72" y="599.12" width="3.16" height="3.16" fill="none" stroke="#1c3a86" stroke-width="1.0"/>
<rect x="472.22" y="596.62" width="3.16" height="3.16" fill="none" stroke="#1c3a86" stroke-width="1.0"/>
<path d="M489.14,552.26 L493.46,552.26 L491.3,556.14 Z" fill="none" stroke="#b00c32" stroke-width="1" stroke-linejoin="round"/>
<path d="M496.34,554.96 L500.66,554.96 L498.5,558.84 Z" fill="none" stroke="#b00c32" stroke-width="1" stroke-linejoin="round"/>
<path d="M492.84,587.86 L497.16,587.86 L495,591.74 Z" fill="none" stroke="#b00c32" stroke-width="1" stroke-linejoin="round"/>
<path d="M489.14,597.56 L493.46,597.56 L491.3,601.44 Z" fill="none" stroke="#b00c32" stroke-width="1" stroke-linejoin="round"/>
<path d="M496.34,595.96 L500.66,595.96 L498.5,599.84 Z" fill="none" stroke="#b00c32" stroke-width="1" stroke-linejoin="round"/>
<line x1="470.8" y1="532.3" x2="494.6" y2="532.3" stroke="#111" stroke-width="1.3"/>
<text x="482.7" y="529.1" font-size="5.6" text-anchor="middle">ns</text>
<text x="483" y="511.8" font-size="8.4" text-anchor="middle" textLength="50" lengthAdjust="spacingAndGlyphs">piAKT (s473)</text>
<text x="483.1" y="618.3" font-size="6.3" text-anchor="middle" textLength="36.3" lengthAdjust="spacingAndGlyphs">unstimulated</text>
<text x="339" y="688.5" font-size="8" text-anchor="middle" transform="rotate(-90 339 688.5)" textLength="65.1" lengthAdjust="spacingAndGlyphs">Relative protein level</text>
<text x="350.3" y="688.5" font-size="8" text-anchor="middle" transform="rotate(-90 350.3 688.5)" textLength="48.9" lengthAdjust="spacingAndGlyphs">(phospho/total)</text>
<line x1="367" y1="644.5" x2="367" y2="732.9" stroke="#111" stroke-width="1.45"/>
<line x1="364.2" y1="647.2" x2="367" y2="647.2" stroke="#111" stroke-width="1.16"/>
<text x="360.6" y="649.47" font-size="6.3" text-anchor="end">5</text>
<line x1="364.2" y1="664.6" x2="367" y2="664.6" stroke="#111" stroke-width="1.16"/>
<text x="360.6" y="666.87" font-size="6.3" text-anchor="end">4</text>
<line x1="364.2" y1="681.7" x2="367" y2="681.7" stroke="#111" stroke-width="1.16"/>
<text x="360.6" y="683.97" font-size="6.3" text-anchor="end">3</text>
<line x1="364.2" y1="698.6" x2="367" y2="698.6" stroke="#111" stroke-width="1.16"/>
<text x="360.6" y="700.87" font-size="6.3" text-anchor="end">2</text>
<line x1="364.2" y1="716" x2="367" y2="716" stroke="#111" stroke-width="1.16"/>
<text x="360.6" y="718.27" font-size="6.3" text-anchor="end">1</text>
<line x1="364.2" y1="732.9" x2="367" y2="732.9" stroke="#111" stroke-width="1.16"/>
<text x="360.6" y="735.17" font-size="6.3" text-anchor="end">0</text>
<line x1="366.3" y1="732.9" x2="424.7" y2="732.9" stroke="#111" stroke-width="1.45"/>
<line x1="396.2" y1="732.9" x2="396.2" y2="735.3" stroke="#111" stroke-width="1.16"/>
<rect x="376" y="692.1" width="14.9" height="40.8" fill="#8f98bd"/>
<rect x="400.4" y="694.8" width="14.8" height="38.1" fill="#d08a7c"/>
<line x1="383.5" y1="676.8" x2="383.5" y2="705" stroke="#1c3a86" stroke-width="1.1"/>
<line x1="381" y1="676.8" x2="386" y2="676.8" stroke="#1c3a86" stroke-width="1.1"/>
<line x1="381" y1="705" x2="386" y2="705" stroke="#1c3a86" stroke-width="1.1"/>
<line x1="407.8" y1="683.2" x2="407.8" y2="705" stroke="#b00c32" stroke-width="1.1"/>
<line x1="405.3" y1="683.2" x2="410.3" y2="683.2" stroke="#b00c32" stroke-width="1.1"/>
<line x1="405.3" y1="705" x2="410.3" y2="705" stroke="#b00c32" stroke-width="1.1"/>
<rect x="381.9" y="688.6" width="3.2" height="3.2" fill="#1c3a86"/>
<rect x="381.9" y="699.6" width="3.2" height="3.2" fill="#1c3a86"/>
<rect x="381.9" y="717.5" width="3.2" height="3.2" fill="#1c3a86"/>
<path d="M406,667.78 L409.6,667.78 L407.8,671.02 Z" fill="#b00c32" stroke="none" stroke-width="0"/>
<path d="M406,700.58 L409.6,700.58 L407.8,703.82 Z" fill="#b00c32" stroke="none" stroke-width="0"/>
<path d="M406,718.58 L409.6,718.58 L407.8,721.82 Z" fill="#b00c32" stroke="none" stroke-width="0"/>
<line x1="383" y1="658.2" x2="406.7" y2="658.2" stroke="#111" stroke-width="1.3"/>
<text x="396.4" y="638.8" font-size="8.4" text-anchor="middle" textLength="52.3" lengthAdjust="spacingAndGlyphs">piAKT (T308)</text>
<text x="396.2" y="743.6" font-size="6.3" text-anchor="middle" textLength="17.4" lengthAdjust="spacingAndGlyphs">α-IgM</text>
<rect x="382" y="651.4" width="3" height="3" fill="#1c3a86"/>
<text x="392" y="655" font-size="6">ns</text>
<line x1="454.6" y1="644.2" x2="454.6" y2="732.7" stroke="#111" stroke-width="1.45"/>
<line x1="451.8" y1="647.7" x2="454.6" y2="647.7" stroke="#111" stroke-width="1.16"/>
<text x="447.3" y="649.97" font-size="6.3" text-anchor="end">3</text>
<line x1="451.8" y1="676" x2="454.6" y2="676" stroke="#111" stroke-width="1.16"/>
<text x="447.3" y="678.27" font-size="6.3" text-anchor="end">2</text>
<line x1="451.8" y1="704.4" x2="454.6" y2="704.4" stroke="#111" stroke-width="1.16"/>
<text x="447.3" y="706.67" font-size="6.3" text-anchor="end">1</text>
<line x1="451.8" y1="732.7" x2="454.6" y2="732.7" stroke="#111" stroke-width="1.16"/>
<text x="447.3" y="734.97" font-size="6.3" text-anchor="end">0</text>
<line x1="453.9" y1="732.7" x2="511.3" y2="732.7" stroke="#111" stroke-width="1.45"/>
<line x1="483.5" y1="732.7" x2="483.5" y2="735.1" stroke="#111" stroke-width="1.16"/>
<rect x="463.3" y="696.2" width="14.8" height="36.5" fill="#8f98bd"/>
<rect x="487.7" y="701.9" width="15" height="30.8" fill="#d08a7c"/>
<line x1="471" y1="684.6" x2="471" y2="705.8" stroke="#1c3a86" stroke-width="1.1"/>
<line x1="468.5" y1="684.6" x2="473.5" y2="684.6" stroke="#1c3a86" stroke-width="1.1"/>
<line x1="468.5" y1="705.8" x2="473.5" y2="705.8" stroke="#1c3a86" stroke-width="1.1"/>
<line x1="495" y1="694.2" x2="495" y2="707.7" stroke="#b00c32" stroke-width="1.1"/>
<line x1="492.5" y1="694.2" x2="497.5" y2="694.2" stroke="#b00c32" stroke-width="1.1"/>
<line x1="492.5" y1="707.7" x2="497.5" y2="707.7" stroke="#b00c32" stroke-width="1.1"/>
<rect x="469.4" y="689.7" width="3.2" height="3.2" fill="#1c3a86"/>
<rect x="465.5" y="702.8" width="3.2" height="3.2" fill="#1c3a86"/>
<rect x="473.2" y="703.2" width="3.2" height="3.2" fill="#1c3a86"/>
<rect x="469.4" y="718.2" width="3.2" height="3.2" fill="#1c3a86"/>
<path d="M493.2,679.18 L496.8,679.18 L495,682.42 Z" fill="#b00c32" stroke="none" stroke-width="0"/>
<path d="M493.2,686.48 L496.8,686.48 L495,689.72 Z" fill="#b00c32" stroke="none" stroke-width="0"/>
<path d="M486.5,710.88 L490.1,710.88 L488.3,714.12 Z" fill="#b00c32" stroke="none" stroke-width="0"/>
<path d="M493.2,707.98 L496.8,707.98 L495,711.22 Z" fill="#b00c32" stroke="none" stroke-width="0"/>
<path d="M499.9,709.88 L503.5,709.88 L501.7,713.12 Z" fill="#b00c32" stroke="none" stroke-width="0"/>
<line x1="470.4" y1="661" x2="495" y2="661" stroke="#111" stroke-width="1.3"/>
<text x="483" y="639.4" font-size="8.4" text-anchor="middle" textLength="51" lengthAdjust="spacingAndGlyphs">piAKT (s473)</text>
<text x="483.5" y="743.6" font-size="6.3" text-anchor="middle" textLength="17.4" lengthAdjust="spacingAndGlyphs">α-IgM</text>
<rect x="469.1" y="653.9" width="3" height="3" fill="#1c3a86"/>
<text x="479.6" y="657.5" font-size="6">ns</text>
<text x="8.3" y="642.5" font-size="14" font-weight="bold" fill="#000">J</text>
<rect x="62.5" y="651" width="3" height="3" fill="#1c3a86"/>
<text x="69.4" y="654.8" font-size="6.8" textLength="12.5" lengthAdjust="spacingAndGlyphs">NSC</text>
<path d="M97.5,651.06 L100.7,651.06 L99.1,653.94 Z" fill="#b00c32" stroke="none" stroke-width="0"/>
<text x="104" y="654.8" font-size="6.8" textLength="25" lengthAdjust="spacingAndGlyphs">siZAP-70</text>
<line x1="52.3" y1="667.2" x2="52.3" y2="741.2" stroke="#111" stroke-width="1.45"/>
<line x1="52.3" y1="747.2" x2="52.3" y2="755.3" stroke="#111" stroke-width="1.45"/>
<line x1="49.7" y1="670.2" x2="52.3" y2="670.2" stroke="#111" stroke-width="1.16"/>
<text x="44.6" y="672.58" font-size="6.6" text-anchor="end">100</text>
<line x1="49.7" y1="684.5" x2="52.3" y2="684.5" stroke="#111" stroke-width="1.16"/>
<text x="44.6" y="686.88" font-size="6.6" text-anchor="end">90</text>
<line x1="49.7" y1="698.7" x2="52.3" y2="698.7" stroke="#111" stroke-width="1.16"/>
<text x="44.6" y="701.08" font-size="6.6" text-anchor="end">80</text>
<line x1="49.7" y1="712.7" x2="52.3" y2="712.7" stroke="#111" stroke-width="1.16"/>
<text x="44.6" y="715.08" font-size="6.6" text-anchor="end">70</text>
<line x1="49.7" y1="727" x2="52.3" y2="727" stroke="#111" stroke-width="1.16"/>
<text x="44.6" y="729.38" font-size="6.6" text-anchor="end">60</text>
<line x1="49.7" y1="740.7" x2="52.3" y2="740.7" stroke="#111" stroke-width="1.16"/>
<text x="44.6" y="743.08" font-size="6.6" text-anchor="end">50</text>
<line x1="49.7" y1="747.7" x2="52.3" y2="747.7" stroke="#111" stroke-width="1.16"/>
<text x="44.6" y="750.08" font-size="6.6" text-anchor="end">10</text>
<line x1="49.7" y1="755.3" x2="52.3" y2="755.3" stroke="#111" stroke-width="1.16"/>
<text x="44.6" y="757.68" font-size="6.6" text-anchor="end">0</text>
<line x1="50.1" y1="740.7" x2="54.1" y2="740.7" stroke="#111" stroke-width="1.3"/>
<line x1="50.1" y1="747.7" x2="54.1" y2="747.7" stroke="#111" stroke-width="1.3"/>
<line x1="51.7" y1="755.3" x2="137.5" y2="755.3" stroke="#111" stroke-width="1.45"/>
<line x1="72" y1="755.3" x2="72" y2="757.9" stroke="#111" stroke-width="1.16"/>
<line x1="117.5" y1="755.3" x2="117.5" y2="757.9" stroke="#111" stroke-width="1.16"/>
<rect x="58.3" y="692.7" width="10.8" height="48" fill="#8f98bd"/>
<rect x="58.3" y="747.7" width="10.8" height="7.6" fill="#8f98bd"/>
<rect x="75.1" y="696.6" width="10.8" height="44.1" fill="#d08a7c"/>
<rect x="75.1" y="747.7" width="10.8" height="7.6" fill="#d08a7c"/>
<rect x="103.9" y="709.5" width="10.1" height="31.2" fill="#8f98bd"/>
<rect x="103.9" y="747.7" width="10.1" height="7.6" fill="#8f98bd"/>
<rect x="121.3" y="721.3" width="10.3" height="19.4" fill="#d08a7c"/>
<rect x="121.3" y="747.7" width="10.3" height="7.6" fill="#d08a7c"/>
<line x1="64.3" y1="688.4" x2="64.3" y2="696" stroke="#1c3a86" stroke-width="1.1"/>
<line x1="62.3" y1="688.4" x2="66.3" y2="688.4" stroke="#1c3a86" stroke-width="1.1"/>
<line x1="62.3" y1="696" x2="66.3" y2="696" stroke="#1c3a86" stroke-width="1.1"/>
<line x1="81.4" y1="692.5" x2="81.4" y2="698.5" stroke="#b00c32" stroke-width="1.1"/>
<line x1="79.4" y1="692.5" x2="83.4" y2="692.5" stroke="#b00c32" stroke-width="1.1"/>
<line x1="79.4" y1="698.5" x2="83.4" y2="698.5" stroke="#b00c32" stroke-width="1.1"/>
<line x1="109.5" y1="705.7" x2="109.5" y2="716" stroke="#1c3a86" stroke-width="1.1"/>
<line x1="107.5" y1="705.7" x2="111.5" y2="705.7" stroke="#1c3a86" stroke-width="1.1"/>
<line x1="107.5" y1="716" x2="111.5" y2="716" stroke="#1c3a86" stroke-width="1.1"/>
<line x1="126.1" y1="715.3" x2="126.1" y2="726.1" stroke="#b00c32" stroke-width="1.1"/>
<line x1="124.1" y1="715.3" x2="128.1" y2="715.3" stroke="#b00c32" stroke-width="1.1"/>
<line x1="124.1" y1="726.1" x2="128.1" y2="726.1" stroke="#b00c32" stroke-width="1.1"/>
<rect x="57.9" y="676.4" width="3.2" height="3.2" fill="#1c3a86"/>
<rect x="62.7" y="678.8" width="3.2" height="3.2" fill="#1c3a86"/>
<rect x="66.8" y="678.8" width="3.2" height="3.2" fill="#1c3a86"/>
<rect x="62.7" y="684.4" width="3.2" height="3.2" fill="#1c3a86"/>
<rect x="57.9" y="689.2" width="3.2" height="3.2" fill="#1c3a86"/>
<rect x="66.8" y="689.2" width="3.2" height="3.2" fill="#1c3a86"/>
<rect x="62.7" y="690.9" width="3.2" height="3.2" fill="#1c3a86"/>
<rect x="57.9" y="696.9" width="3.2" height="3.2" fill="#1c3a86"/>
<rect x="66.8" y="696.9" width="3.2" height="3.2" fill="#1c3a86"/>
<rect x="62.7" y="698.8" width="3.2" height="3.2" fill="#1c3a86"/>
<path d="M76.2,679.58 L79.8,679.58 L78,682.82 Z" fill="#b00c32" stroke="none" stroke-width="0"/>
<path d="M82.9,679.98 L86.5,679.98 L84.7,683.22 Z" fill="#b00c32" stroke="none" stroke-width="0"/>
<path d="M76.2,683.18 L79.8,683.18 L78,686.42 Z" fill="#b00c32" stroke="none" stroke-width="0"/>
<path d="M82.9,683.18 L86.5,683.18 L84.7,686.42 Z" fill="#b00c32" stroke="none" stroke-width="0"/>
<path d="M79.6,691.28 L83.2,691.28 L81.4,694.52 Z" fill="#b00c32" stroke="none" stroke-width="0"/>
<path d="M76.2,696.88 L79.8,696.88 L78,700.12 Z" fill="#b00c32" stroke="none" stroke-width="0"/>
<path d="M82.9,696.88 L86.5,696.88 L84.7,700.12 Z" fill="#b00c32" stroke="none" stroke-width="0"/>
<path d="M76.2,701.68 L79.8,701.68 L78,704.92 Z" fill="#b00c32" stroke="none" stroke-width="0"/>
<path d="M82.9,701.68 L86.5,701.68 L84.7,704.92 Z" fill="#b00c32" stroke="none" stroke-width="0"/>
<path d="M79.6,707.68 L83.2,707.68 L81.4,710.92 Z" fill="#b00c32" stroke="none" stroke-width="0"/>
<rect x="107.9" y="684.4" width="3.2" height="3.2" fill="#1c3a86"/>
<rect x="107.9" y="700.5" width="3.2" height="3.2" fill="#1c3a86"/>
<rect x="103.5" y="706.5" width="3.2" height="3.2" fill="#1c3a86"/>
<rect x="110.8" y="705.3" width="3.2" height="3.2" fill="#1c3a86"/>
<rect x="103.5" y="711.3" width="3.2" height="3.2" fill="#1c3a86"/>
<rect x="110.8" y="712.5" width="3.2" height="3.2" fill="#1c3a86"/>
<rect x="105.9" y="714.9" width="3.2" height="3.2" fill="#1c3a86"/>
<rect x="112" y="714.9" width="3.2" height="3.2" fill="#1c3a86"/>
<rect x="103.5" y="717.3" width="3.2" height="3.2" fill="#1c3a86"/>
<path d="M124.3,691.58 L127.9,691.58 L126.1,694.82 Z" fill="#b00c32" stroke="none" stroke-width="0"/>
<path d="M120.2,706.48 L123.8,706.48 L122,709.72 Z" fill="#b00c32" stroke="none" stroke-width="0"/>
<path d="M128.6,707.68 L132.2,707.68 L130.4,710.92 Z" fill="#b00c32" stroke="none" stroke-width="0"/>
<path d="M124.3,720.38 L127.9,720.38 L126.1,723.62 Z" fill="#b00c32" stroke="none" stroke-width="0"/>
<path d="M120.2,722.78 L123.8,722.78 L122,726.02 Z" fill="#b00c32" stroke="none" stroke-width="0"/>
<path d="M128.6,722.78 L132.2,722.78 L130.4,726.02 Z" fill="#b00c32" stroke="none" stroke-width="0"/>
<path d="M124.3,730.48 L127.9,730.48 L126.1,733.72 Z" fill="#b00c32" stroke="none" stroke-width="0"/>
<path d="M124.3,737.18 L127.9,737.18 L126.1,740.42 Z" fill="#b00c32" stroke="none" stroke-width="0"/>
<path d="M128.6,721.38 L132.2,721.38 L130.4,724.62 Z" fill="#b00c32" stroke="none" stroke-width="0"/>
<line x1="64.3" y1="674.9" x2="82.8" y2="674.9" stroke="#111" stroke-width="1.4"/>
<text x="73.55" y="675.7" font-size="6.6" text-anchor="middle">**</text>
<line x1="108.3" y1="674.9" x2="126.8" y2="674.9" stroke="#111" stroke-width="1.4"/>
<text x="117.55" y="675.7" font-size="6.6" text-anchor="middle">**</text>
<text x="29.6" y="711" font-size="8.6" text-anchor="middle" transform="rotate(-90 29.6 711)" textLength="33.7" lengthAdjust="spacingAndGlyphs">% live cells</text>
<text x="72.2" y="768.6" font-size="6.4" text-anchor="middle" textLength="17" lengthAdjust="spacingAndGlyphs">Mono</text>
<text x="72.2" y="776.2" font-size="6.4" text-anchor="middle" textLength="11.5" lengthAdjust="spacingAndGlyphs">48h</text>
<text x="117.6" y="768.6" font-size="6.4" text-anchor="middle" textLength="17" lengthAdjust="spacingAndGlyphs">Mono</text>
<text x="117.6" y="776.2" font-size="6.4" text-anchor="middle" textLength="11.5" lengthAdjust="spacingAndGlyphs">72h</text>
<text x="153.8" y="642.1" font-size="14" font-weight="bold" fill="#000">K</text>
<rect x="246.8" y="651.4" width="3" height="3" fill="#1c3a86"/>
<text x="252.5" y="655.1" font-size="6.8" textLength="12.5" lengthAdjust="spacingAndGlyphs">NSC</text>
<path d="M246.7,661.36 L249.9,661.36 L248.3,664.24 Z" fill="#b00c32" stroke="none" stroke-width="0"/>
<text x="252.5" y="665.1" font-size="6.8" textLength="25" lengthAdjust="spacingAndGlyphs">siZAP-70</text>
<line x1="201" y1="667.3" x2="201" y2="741.5" stroke="#111" stroke-width="1.45"/>
<line x1="201" y1="747.4" x2="201" y2="755.2" stroke="#111" stroke-width="1.45"/>
<line x1="198.4" y1="670" x2="201" y2="670" stroke="#111" stroke-width="1.16"/>
<text x="194.3" y="672.38" font-size="6.6" text-anchor="end">100</text>
<line x1="198.4" y1="684.2" x2="201" y2="684.2" stroke="#111" stroke-width="1.16"/>
<text x="194.3" y="686.58" font-size="6.6" text-anchor="end">90</text>
<line x1="198.4" y1="698.4" x2="201" y2="698.4" stroke="#111" stroke-width="1.16"/>
<text x="194.3" y="700.78" font-size="6.6" text-anchor="end">80</text>
<line x1="198.4" y1="712.8" x2="201" y2="712.8" stroke="#111" stroke-width="1.16"/>
<text x="194.3" y="715.18" font-size="6.6" text-anchor="end">70</text>
<line x1="198.4" y1="727" x2="201" y2="727" stroke="#111" stroke-width="1.16"/>
<text x="194.3" y="729.38" font-size="6.6" text-anchor="end">60</text>
<line x1="198.4" y1="741" x2="201" y2="741" stroke="#111" stroke-width="1.16"/>
<text x="194.3" y="743.38" font-size="6.6" text-anchor="end">50</text>
<line x1="198.4" y1="747.9" x2="201" y2="747.9" stroke="#111" stroke-width="1.16"/>
<text x="194.3" y="750.28" font-size="6.6" text-anchor="end">10</text>
<line x1="198.4" y1="755.2" x2="201" y2="755.2" stroke="#111" stroke-width="1.16"/>
<text x="194.3" y="757.58" font-size="6.6" text-anchor="end">0</text>
<line x1="198.8" y1="741" x2="202.8" y2="741" stroke="#111" stroke-width="1.3"/>
<line x1="198.8" y1="747.9" x2="202.8" y2="747.9" stroke="#111" stroke-width="1.3"/>
<line x1="200.4" y1="755.2" x2="246" y2="755.2" stroke="#111" stroke-width="1.45"/>
<line x1="223" y1="755.2" x2="223" y2="757.8" stroke="#111" stroke-width="1.16"/>
<rect x="207.9" y="692.9" width="11.6" height="48.1" fill="#8f98bd"/>
<rect x="207.9" y="747.9" width="11.6" height="7.3" fill="#8f98bd"/>
<rect x="227.3" y="696" width="11.8" height="45" fill="#d08a7c"/>
<rect x="227.3" y="747.9" width="11.8" height="7.3" fill="#d08a7c"/>
<line x1="213.8" y1="688.6" x2="213.8" y2="696.7" stroke="#1c3a86" stroke-width="1.1"/>
<line x1="211.55" y1="688.6" x2="216.05" y2="688.6" stroke="#1c3a86" stroke-width="1.1"/>
<line x1="211.55" y1="696.7" x2="216.05" y2="696.7" stroke="#1c3a86" stroke-width="1.1"/>
<line x1="233.4" y1="692" x2="233.4" y2="697.7" stroke="#b00c32" stroke-width="1.1"/>
<line x1="231.15" y1="692" x2="235.65" y2="692" stroke="#b00c32" stroke-width="1.1"/>
<line x1="231.15" y1="697.7" x2="235.65" y2="697.7" stroke="#b00c32" stroke-width="1.1"/>
<rect x="207" y="684.7" width="3.2" height="3.2" fill="#1c3a86"/>
<rect x="217.4" y="684.7" width="3.2" height="3.2" fill="#1c3a86"/>
<rect x="212.7" y="686.4" width="3.2" height="3.2" fill="#1c3a86"/>
<rect x="209.3" y="693" width="3.2" height="3.2" fill="#1c3a86"/>
<rect x="214.5" y="694.4" width="3.2" height="3.2" fill="#1c3a86"/>
<rect x="212.2" y="699.6" width="3.2" height="3.2" fill="#1c3a86"/>
<path d="M225.9,690.38 L229.5,690.38 L227.7,693.62 Z" fill="#b00c32" stroke="none" stroke-width="0"/>
<path d="M231,688.68 L234.6,688.68 L232.8,691.92 Z" fill="#b00c32" stroke="none" stroke-width="0"/>
<path d="M235.9,686.58 L239.5,686.58 L237.7,689.82 Z" fill="#b00c32" stroke="none" stroke-width="0"/>
<path d="M235.5,690.88 L239.1,690.88 L237.3,694.12 Z" fill="#b00c32" stroke="none" stroke-width="0"/>
<path d="M230.7,696.08 L234.3,696.08 L232.5,699.32 Z" fill="#b00c32" stroke="none" stroke-width="0"/>
<path d="M233.8,700.48 L237.4,700.48 L235.6,703.72 Z" fill="#b00c32" stroke="none" stroke-width="0"/>
<path d="M228.1,703.68 L231.7,703.68 L229.9,706.92 Z" fill="#b00c32" stroke="none" stroke-width="0"/>
<line x1="211.4" y1="674.7" x2="235.6" y2="674.7" stroke="#111" stroke-width="1.3"/>
<text x="223.5" y="671.9" font-size="6" text-anchor="middle">ns</text>
<text x="177.5" y="711.2" font-size="8.6" text-anchor="middle" transform="rotate(-90 177.5 711.2)" textLength="33.6" lengthAdjust="spacingAndGlyphs">% live cells</text>
<text x="223.8" y="767.8" font-size="6.4" text-anchor="middle" textLength="17" lengthAdjust="spacingAndGlyphs">Mono</text>
<text x="223.8" y="775.8" font-size="6.4" text-anchor="middle" textLength="11.5" lengthAdjust="spacingAndGlyphs">48h</text>
<text x="223.8" y="783.6" font-size="6.4" text-anchor="middle" textLength="21" lengthAdjust="spacingAndGlyphs">+α-IgM</text>
<rect x="0" y="0" width="520" height="1" fill="#000"/>
<rect x="0" y="0" width="1.2" height="793" fill="#000"/>
<rect x="518.3" y="0" width="1.7" height="793" fill="#000"/>
<rect x="0" y="791.3" width="520" height="1.7" fill="#000"/>
</svg>
</body></html>
